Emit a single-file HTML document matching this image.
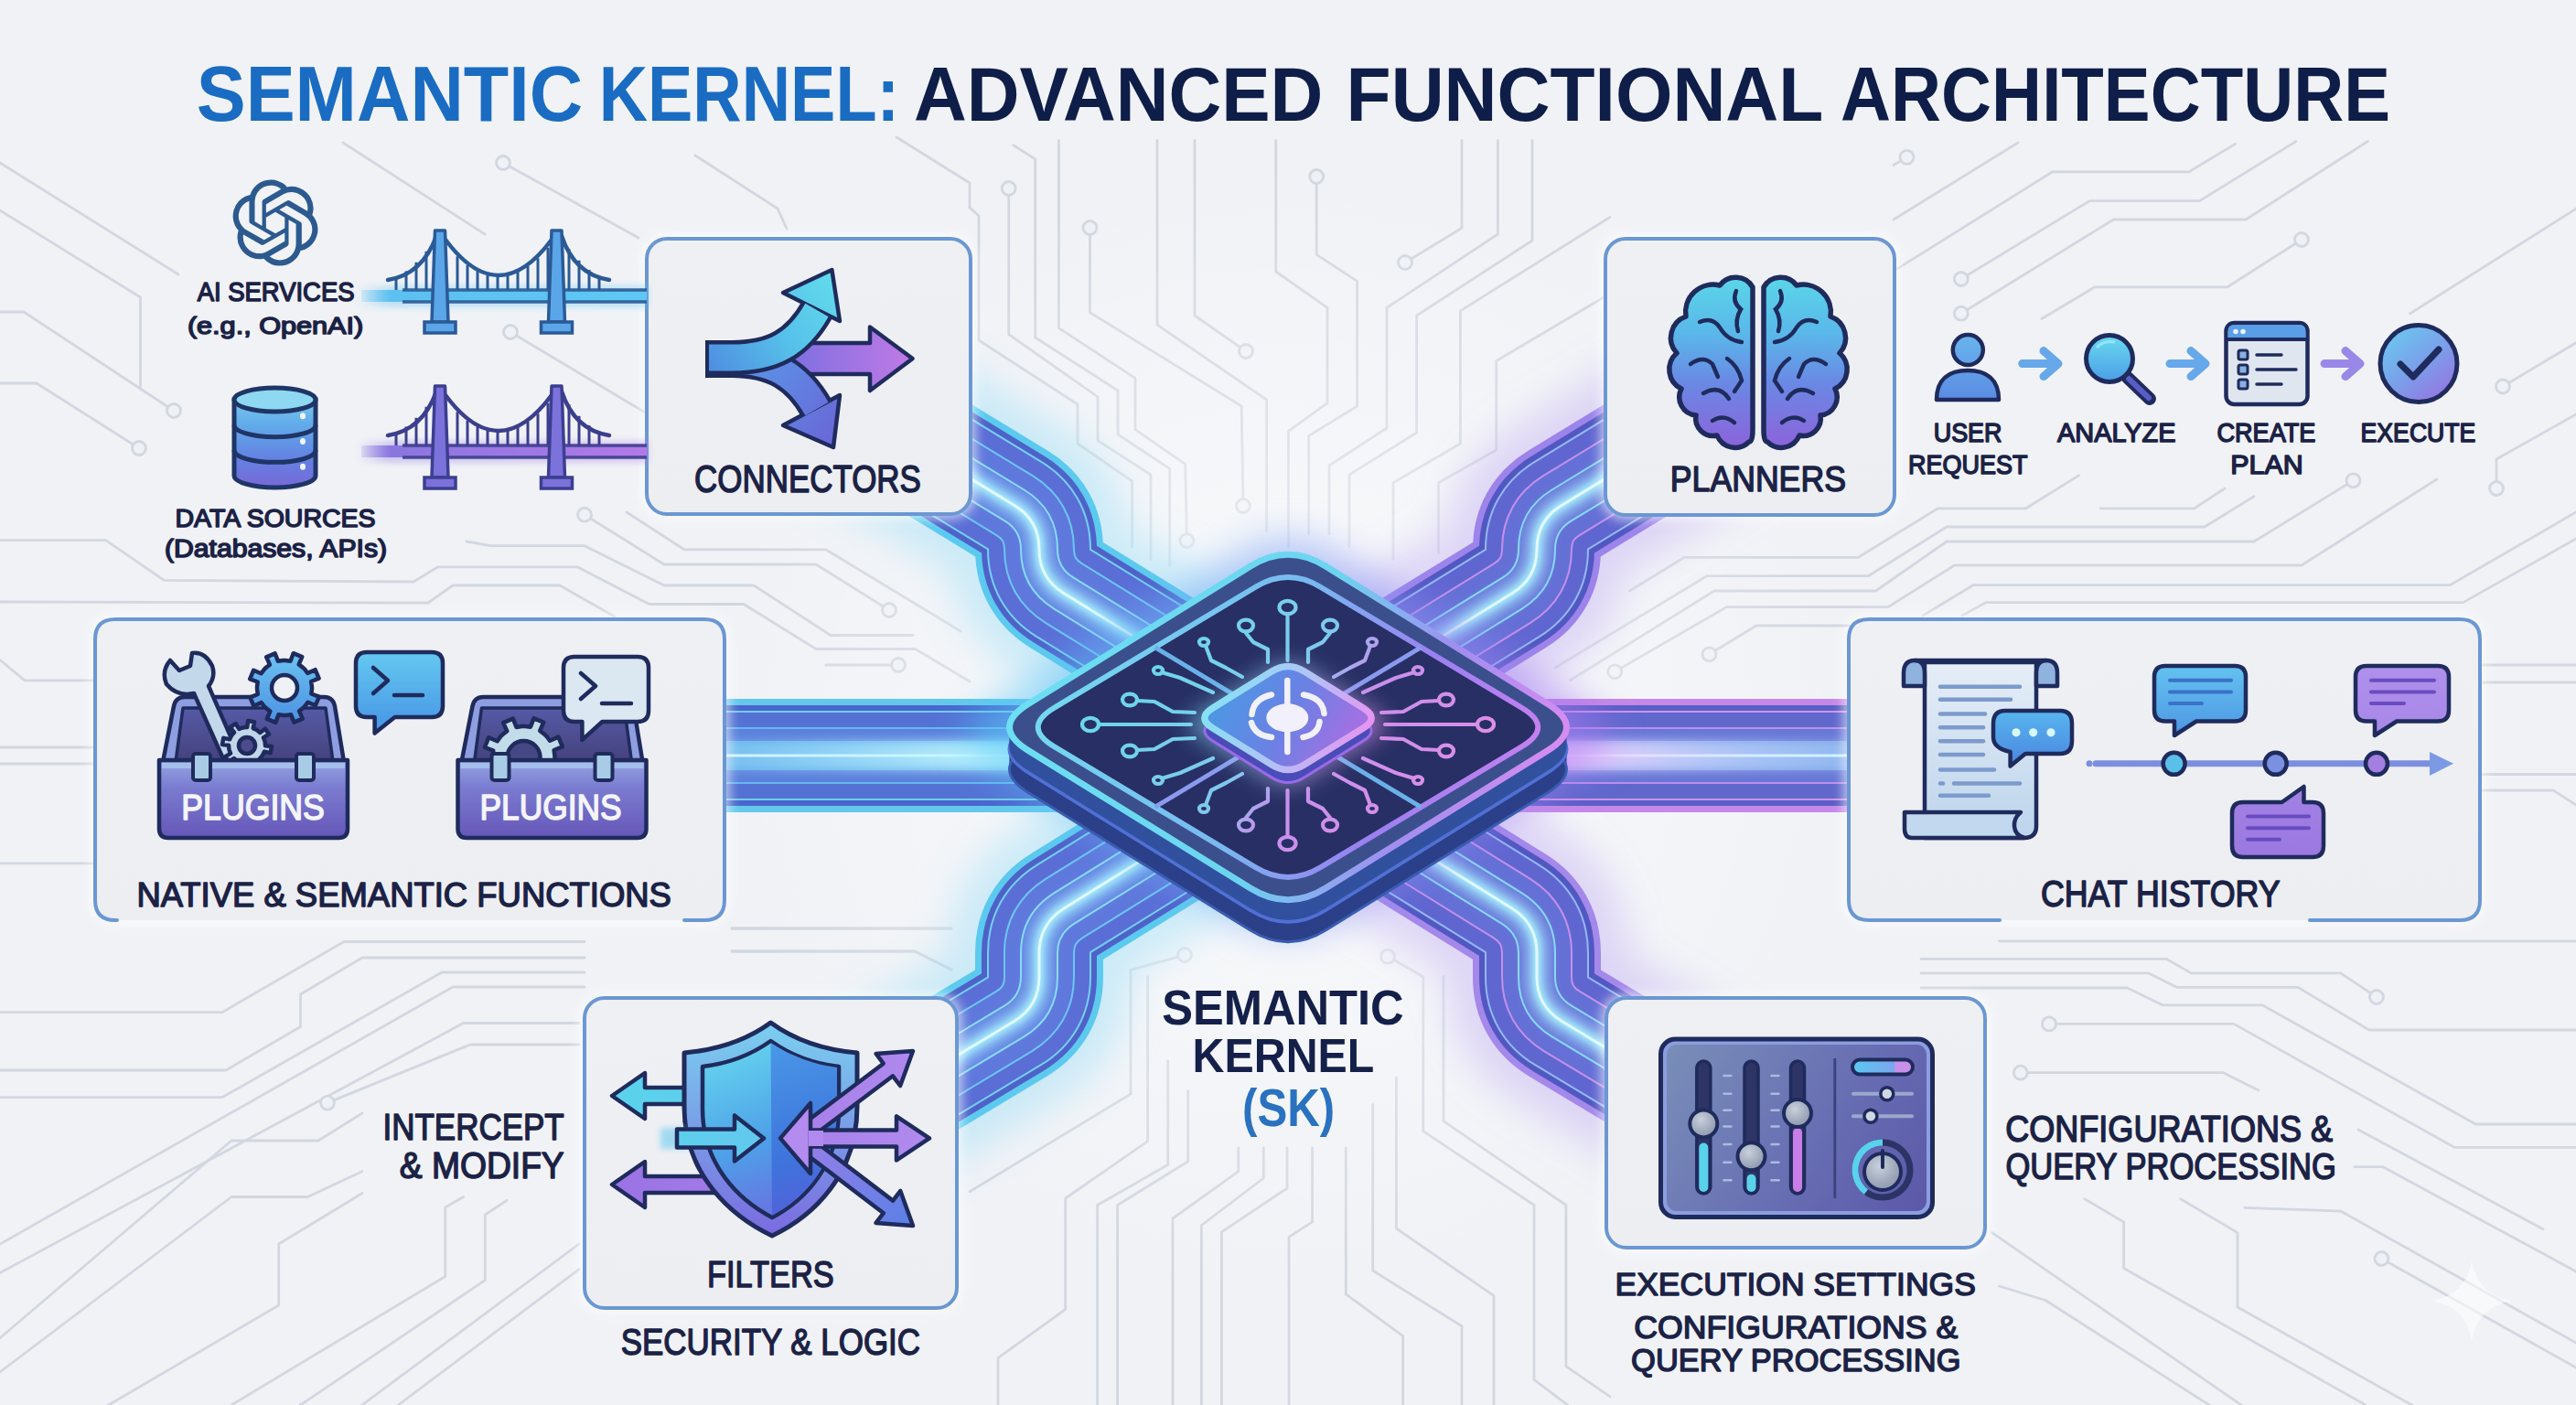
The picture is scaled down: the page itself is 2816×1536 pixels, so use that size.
<!DOCTYPE html><html><head><meta charset="utf-8"><style>html,body{margin:0;padding:0;width:2816px;height:1536px;overflow:hidden;background:#f1f3f7}svg{display:block}text{font-family:"Liberation Sans",sans-serif}</style></head><body><svg width="2816" height="1536" viewBox="0 0 2816 1536" xmlns="http://www.w3.org/2000/svg"><defs>
<filter id="blur6" x="-50%" y="-50%" width="200%" height="200%"><feGaussianBlur stdDeviation="6"/></filter>
<filter id="blur12" x="-50%" y="-50%" width="200%" height="200%"><feGaussianBlur stdDeviation="12"/></filter>
<filter id="blur20" x="-50%" y="-50%" width="200%" height="200%"><feGaussianBlur stdDeviation="20"/></filter>
<filter id="blur3" x="-50%" y="-50%" width="200%" height="200%"><feGaussianBlur stdDeviation="3"/></filter>
<radialGradient id="bgglow" cx="1408" cy="800" r="620" gradientUnits="userSpaceOnUse">
 <stop offset="0" stop-color="#ffffff" stop-opacity="0.75"/><stop offset="0.45" stop-color="#ffffff" stop-opacity="0.35"/><stop offset="1" stop-color="#ffffff" stop-opacity="0"/>
</radialGradient>
<linearGradient id="boxfill" x1="0" y1="0" x2="0" y2="1">
 <stop offset="0" stop-color="#eff0f4"/><stop offset="1" stop-color="#eceef2"/>
</linearGradient>
</defs>
<rect width="2816" height="1536" fill="#f0f2f6"/>
<g fill="none" stroke="#d2d7e0" stroke-width="2.8" stroke-linejoin="round" stroke-linecap="round">
<path d="M0.0,178.0 L195.0,300.0"/>
<path d="M0.0,230.0 L153.5,325.0 L153.5,425.0 L190.0,449.0"/>
<circle cx="190" cy="449" r="7.5" fill="#eef1f5"/>
<path d="M0.0,341.0 L26.0,341.0 L153.5,425.0"/>
<path d="M0.0,419.0 L40.0,419.0 L152.0,490.0"/>
<circle cx="152" cy="490" r="7.5" fill="#eef1f5"/>
<path d="M0.0,590.6 L115.6,590.6 L179.4,634.4 L452.0,636.0 L478.8,619.8 L631.0,619.8 L709.8,660.5 L813.0,660.5 L892.0,709.5 L1000.5,709.5 L1060.0,745.0"/>
<path d="M510.0,592.0 L536.0,596.7 L639.0,596.7 L726.0,640.0 L824.0,640.0 L908.0,694.5 L998.0,694.5"/>
<path d="M685.0,560.0 L748.0,600.8 L902.7,600.8 L1050.0,690.0"/>
<path d="M902.7,727.0 L982.0,727.0"/>
<circle cx="982" cy="727" r="7.5" fill="#eef1f5"/>
<path d="M0.0,658.0 L468.0,659.0 L495.0,640.0 L612.0,640.0 L671.7,674.0"/>
<path d="M375.0,156.0 L530.0,256.0"/>
<path d="M550.0,178.0 L698.0,260.0"/>
<circle cx="550" cy="178" r="7.5" fill="#eef1f5"/>
<path d="M558.0,363.0 L707.0,452.0"/>
<circle cx="558" cy="363" r="7.5" fill="#eef1f5"/>
<path d="M639.0,562.7 L726.0,617.0 L892.0,617.0 L972.0,667.0"/>
<circle cx="639" cy="562.7" r="7.5" fill="#eef1f5"/>
<circle cx="972" cy="667" r="7.5" fill="#eef1f5"/>
<path d="M1060.0,227.0 L1070.0,236.0 L1070.0,372.0 L1178.0,442.0 L1178.0,485.0 L1237.6,526.0 L1237.6,598.0"/>
<path d="M1102.7,206.0 L1102.7,365.5 L1200.0,433.8 L1200.0,481.6 L1258.0,519.0 L1258.0,611.5"/>
<circle cx="1102.7" cy="206" r="7.5" fill="#eef1f5"/>
<path d="M1107.8,158.8 L1131.7,174.0 L1131.7,369.0 L1222.0,427.0 L1222.0,474.8 L1278.7,512.4 L1278.7,618.0"/>
<path d="M1157.4,153.7 L1157.4,358.7 L1241.0,413.3 L1241.0,469.7 L1295.7,507.3 L1297.4,591.0"/>
<circle cx="1297.4" cy="591" r="7.5" fill="#eef1f5"/>
<path d="M1191.5,249.0 L1191.5,341.6 L1357.2,444.0 L1359.0,553.0"/>
<circle cx="1191.5" cy="249" r="7.5" fill="#eef1f5"/>
<circle cx="1359" cy="553" r="7.5" fill="#eef1f5"/>
<path d="M1265.0,153.7 L1265.0,355.0 L1384.6,437.0 L1384.6,580.7"/>
<path d="M1306.0,153.7 L1306.0,345.0 L1362.0,384.0"/>
<circle cx="1362" cy="384" r="7.5" fill="#eef1f5"/>
<path d="M1394.8,153.7 L1394.8,297.0 L1451.0,336.4 L1451.0,440.6 L1408.5,471.4 L1408.5,597.8"/>
<path d="M1439.2,193.0 L1439.2,278.4 L1483.6,307.4 L1483.6,444.0 L1430.7,476.5 L1430.7,584.0"/>
<circle cx="1439.2" cy="193" r="7.5" fill="#eef1f5"/>
<path d="M1598.0,153.7 L1598.0,249.3 L1536.0,287.0"/>
<circle cx="1536" cy="287" r="7.5" fill="#eef1f5"/>
<path d="M1637.4,153.7 L1637.4,256.0 L1516.0,336.4 L1516.0,468.0 L1453.0,509.0 L1453.0,584.0"/>
<path d="M1675.0,153.7 L1675.0,263.0 L1548.6,345.0 L1548.6,473.0 L1475.0,519.0 L1475.0,597.8"/>
<path d="M1760.0,237.4 L1596.4,339.9 L1596.4,485.0 L1523.0,527.8 L1523.0,611.5"/>
<path d="M1760.0,321.0 L1635.7,394.5 L1635.7,492.0 L1572.5,527.8 L1572.5,604.6"/>
<path d="M980.0,150.0 L1060.0,200.0 L1060.0,227.0"/>
<path d="M760.0,170.0 L850.0,228.0 L860.0,250.0"/>
<path d="M2084.5,171.9 L2070.0,180.5"/>
<circle cx="2084.5" cy="171.9" r="7.5" fill="#eef1f5"/>
<path d="M2070.0,240.0 L2206.0,156.0"/>
<path d="M2070.0,296.4 L2243.8,187.8 L2393.0,187.8 L2443.6,157.4"/>
<path d="M2143.8,305.0 L2284.3,219.6 L2404.5,219.6 L2510.0,154.5"/>
<circle cx="2143.8" cy="305" r="7.5" fill="#eef1f5"/>
<path d="M2143.8,342.7 L2310.4,240.0 L2455.0,240.0 L2588.4,154.5"/>
<circle cx="2143.8" cy="342.7" r="7.5" fill="#eef1f5"/>
<path d="M2232.0,348.5 L2290.0,313.8 L2435.0,313.8 L2516.0,262.0"/>
<circle cx="2516" cy="262" r="7.5" fill="#eef1f5"/>
<path d="M2634.7,342.7 L2816.0,228.3"/>
<path d="M2736.0,422.5 L2816.0,374.8"/>
<circle cx="2736" cy="422.5" r="7.5" fill="#eef1f5"/>
<path d="M2729.0,534.0 L2729.0,502.0 L2816.0,453.0"/>
<circle cx="2729" cy="534" r="7.5" fill="#eef1f5"/>
<path d="M2572.5,525.3 L2464.0,592.0 L2128.0,592.0 L2050.5,646.0 L1874.0,646.0 L1716.3,743.8"/>
<circle cx="2572.5" cy="525.3" r="7.5" fill="#eef1f5"/>
<path d="M1781.5,646.0 L1841.3,609.3 L2031.5,609.3 L2118.5,555.8 L2214.8,555.8 L2272.7,519.6"/>
<path d="M2296.0,555.8 L2398.7,555.8 L2432.0,534.0"/>
<path d="M1700.0,730.0 L1865.8,629.7 L2042.4,629.7 L2128.0,576.0 L2410.0,576.0 L2464.0,542.7"/>
<path d="M1765.2,734.3 L1887.5,663.6 L2064.0,663.6 L2136.6,618.0 L2516.0,618.0 L2663.7,524.0"/>
<circle cx="1765.2" cy="734.3" r="7.5" fill="#eef1f5"/>
<path d="M2020.7,684.0 L1920.0,684.0 L1868.5,715.3"/>
<circle cx="1868.5" cy="715.3" r="7.5" fill="#eef1f5"/>
<path d="M2102.0,673.0 L2157.0,639.7 L2678.0,639.7 L2816.0,560.0"/>
<path d="M2145.0,673.0 L2171.0,658.6 L2692.6,658.6 L2816.0,589.0"/>
<path d="M0.0,721.5 L27.0,743.8 L104.0,743.8"/>
<path d="M0.0,817.0 L104.0,817.0"/>
<path d="M0.0,835.0 L104.0,835.0"/>
<path d="M0.0,943.8 L104.0,943.8"/>
<path d="M0.0,1106.6 L243.0,1106.6 L376.0,1029.5 L639.0,1029.5"/>
<path d="M0.0,1170.0 L247.0,1170.0 L328.5,1122.5 L328.5,1087.0 L396.0,1047.0 L639.0,1047.0"/>
<path d="M0.0,1199.6 L243.0,1199.6 L483.0,1063.0 L639.0,1063.0"/>
<path d="M0.0,1360.0 L495.0,1079.0 L639.0,1079.0"/>
<path d="M0.0,1391.6 L506.5,1118.5 L633.0,1118.5"/>
<path d="M0.0,1462.8 L253.0,1247.0 L348.0,1247.0 L396.0,1217.0"/>
<path d="M358.0,1205.6 L514.0,1142.0 L633.0,1142.0"/>
<circle cx="358" cy="1205.6" r="7.5" fill="#eef1f5"/>
<path d="M118.7,1536.0 L304.7,1427.0 L304.7,1360.0 L396.0,1304.5"/>
<path d="M253.0,1536.0 L486.7,1395.5 L486.7,1320.0 L506.5,1308.5"/>
<path d="M328.5,1536.0 L530.3,1399.5 L530.3,1328.0 L554.0,1312.4"/>
<path d="M395.7,1536.0 L633.0,1360.0"/>
<path d="M435.3,1536.0 L633.0,1387.6"/>
<path d="M0.0,1500.0 L253.0,1308.5 L336.4,1308.5 L395.7,1280.8"/>
<path d="M800.0,1015.0 L1040.0,1015.0"/>
<path d="M800.0,1040.0 L1000.0,1040.0 L1040.0,1060.0"/>
<path d="M1295.0,1044.0 L1236.0,1060.4 L1236.0,1196.0 L1060.0,1302.8"/>
<circle cx="1295" cy="1044" r="7.5" fill="#eef1f5"/>
<path d="M1254.6,1067.7 L1254.6,1247.7 L1164.7,1310.0 L1164.7,1431.3 L1091.0,1484.6 L1091.0,1536.0"/>
<path d="M1276.7,1159.6 L1276.7,1273.4 L1199.6,1317.5 L1199.6,1536.0"/>
<path d="M1298.7,1192.6 L1298.7,1269.7 L1221.6,1317.5 L1221.6,1536.0"/>
<path d="M1353.8,1255.0 L1353.8,1280.7 L1282.0,1332.0 L1282.0,1536.0"/>
<path d="M1381.3,1255.0 L1381.3,1288.0 L1313.4,1339.5 L1313.4,1536.0"/>
<path d="M1407.0,1255.0 L1407.0,1299.0 L1335.4,1346.8 L1335.4,1536.0"/>
<path d="M1434.6,1255.0 L1434.6,1335.8 L1409.0,1352.4 L1409.0,1536.0"/>
<path d="M1471.3,1255.0 L1471.3,1414.8 L1533.7,1460.7 L1533.7,1536.0"/>
<path d="M1500.7,1207.3 L1500.7,1389.0 L1598.0,1449.7 L1598.0,1536.0"/>
<path d="M1526.4,1178.0 L1526.4,1343.0 L1633.0,1416.6 L1633.0,1536.0"/>
<path d="M1517.0,1045.7 L1555.8,1067.7 L1555.8,1236.7 L1677.0,1317.5 L1677.0,1508.4 L1713.7,1536.0"/>
<circle cx="1517" cy="1045.7" r="7.5" fill="#eef1f5"/>
<path d="M1578.0,1067.7 L1578.0,1225.7 L1711.9,1317.5 L1711.9,1493.7 L1760.0,1526.8"/>
<path d="M800.0,1015.0 L1040.0,1015.0"/>
<path d="M800.0,1040.0 L1000.0,1040.0 L1040.0,1060.0"/>
<path d="M2185.5,1028.9 L2816.0,1028.9"/>
<path d="M2100.0,1048.3 L2368.0,1048.3 L2395.4,1063.9 L2558.7,1063.9 L2598.0,1090.0"/>
<circle cx="2598" cy="1090" r="7.5" fill="#eef1f5"/>
<path d="M2100.0,1063.9 L2348.8,1063.9 L2380.0,1079.4 L2512.0,1079.4 L2589.8,1126.0 L2816.0,1126.0"/>
<path d="M2100.0,1080.0 L2325.5,1080.0 L2364.0,1098.8 L2473.0,1098.8 L2706.4,1229.0 L2816.0,1229.0"/>
<path d="M2240.0,1119.4 L2442.0,1119.4 L2683.0,1254.3 L2816.0,1254.3"/>
<circle cx="2240" cy="1119.4" r="7.5" fill="#eef1f5"/>
<path d="M2208.8,1172.7 L2430.4,1172.7 L2469.0,1192.0"/>
<circle cx="2208.8" cy="1172.7" r="7.5" fill="#eef1f5"/>
<path d="M2578.0,1235.0 L2780.0,1343.7"/>
<path d="M2574.0,1275.7 L2605.0,1275.7 L2816.0,1390.0"/>
<path d="M2453.7,1320.4 L2558.7,1324.0 L2816.0,1468.0"/>
<path d="M2603.4,1376.0 L2816.0,1495.0"/>
<circle cx="2603.4" cy="1376" r="7.5" fill="#eef1f5"/>
<path d="M2278.8,1310.7 L2321.6,1336.0 L2321.6,1386.5 L2527.6,1503.0 L2586.0,1536.0"/>
<path d="M2383.8,1310.7 L2446.0,1347.6 L2446.0,1429.0 L2636.4,1536.0"/>
<path d="M2177.7,1347.6 L2450.0,1536.0"/>
<path d="M2185.5,1406.0 L2236.0,1421.5 L2415.0,1536.0"/>
<path d="M2711.0,727.0 L2816.0,727.0"/>
<path d="M2711.0,746.0 L2816.0,746.0"/>
<path d="M2711.0,846.5 L2816.0,846.5"/>
<path d="M2711.0,864.0 L2791.0,864.0 L2816.0,880.0"/>
</g>
<path d="M2702,1378 Q2708,1416 2746,1422 Q2708,1428 2702,1466 Q2696,1428 2658,1422 Q2696,1416 2702,1378 Z" fill="#ffffff" opacity="0.55"/>
<rect width="2816" height="1536" fill="url(#bgglow)"/>
<path d="M780.0,826.0 L1300.0,826.0" fill="none" stroke="#7fd8f6" stroke-width="184" stroke-opacity="0.35" filter="url(#blur20)"/>
<path d="M780.0,826.0 L1300.0,826.0" fill="none" stroke="#63c8ec" stroke-width="124"/>
<path d="M780.0,826.0 L1300.0,826.0" fill="none" stroke="#4a66cc" stroke-width="110"/>
<path d="M780.0,826.0 L1300.0,826.0" fill="none" stroke="#72cbf2" stroke-width="98" stroke-opacity="1"/>
<path d="M780.0,826.0 L1300.0,826.0" fill="none" stroke="#5472d4" stroke-width="94" stroke-opacity="1"/>
<path d="M780.0,826.0 L1300.0,826.0" fill="none" stroke="#66b6ee" stroke-width="62" stroke-opacity="1"/>
<path d="M780.0,826.0 L1300.0,826.0" fill="none" stroke="#5a80dc" stroke-width="58" stroke-opacity="1"/>
<path d="M780.0,826.0 L1300.0,826.0" fill="none" stroke="#62aeec" stroke-width="32" stroke-opacity="1"/>
<path d="M780.0,826.0 L1300.0,826.0" fill="none" stroke="#9ff0ff" stroke-width="24" stroke-opacity="0.55" filter="url(#blur6)"/>
<path d="M780.0,826.0 L1300.0,826.0" fill="none" stroke="#9ff0ff" stroke-width="9" stroke-opacity="0.85" filter="url(#blur3)"/>
<path d="M780.0,826.0 L1300.0,826.0" fill="none" stroke="#e8fbff" stroke-width="3" stroke-opacity="0.9"/>
<path d="M1520.0,826.0 L2030.0,826.0" fill="none" stroke="#c49af0" stroke-width="184" stroke-opacity="0.35" filter="url(#blur20)"/>
<path d="M1520.0,826.0 L2030.0,826.0" fill="none" stroke="#c588e8" stroke-width="124"/>
<path d="M1520.0,826.0 L2030.0,826.0" fill="none" stroke="#5a5fc6" stroke-width="110"/>
<path d="M1520.0,826.0 L2030.0,826.0" fill="none" stroke="#d092ee" stroke-width="98" stroke-opacity="1"/>
<path d="M1520.0,826.0 L2030.0,826.0" fill="none" stroke="#6068cc" stroke-width="94" stroke-opacity="1"/>
<path d="M1520.0,826.0 L2030.0,826.0" fill="none" stroke="#bc8eea" stroke-width="62" stroke-opacity="1"/>
<path d="M1520.0,826.0 L2030.0,826.0" fill="none" stroke="#6676d6" stroke-width="58" stroke-opacity="1"/>
<path d="M1520.0,826.0 L2030.0,826.0" fill="none" stroke="#82a0ea" stroke-width="32" stroke-opacity="1"/>
<path d="M1520.0,826.0 L2030.0,826.0" fill="none" stroke="#9fe8ff" stroke-width="24" stroke-opacity="0.55" filter="url(#blur6)"/>
<path d="M1520.0,826.0 L2030.0,826.0" fill="none" stroke="#9fe8ff" stroke-width="9" stroke-opacity="0.85" filter="url(#blur3)"/>
<path d="M1520.0,826.0 L2030.0,826.0" fill="none" stroke="#e8fbff" stroke-width="3" stroke-opacity="0.9"/>
<defs><linearGradient id="hlg" x1="790" y1="0" x2="1110" y2="0" gradientUnits="userSpaceOnUse"><stop offset="0" stop-color="#b8f2ff" stop-opacity="0.25"/><stop offset="1" stop-color="#c8f8ff" stop-opacity="0.95"/></linearGradient>
<linearGradient id="hrg" x1="1700" y1="0" x2="2020" y2="0" gradientUnits="userSpaceOnUse"><stop offset="0" stop-color="#f8d0ff" stop-opacity="0.95"/><stop offset="1" stop-color="#b8f0ff" stop-opacity="0.3"/></linearGradient></defs>
<rect x="790" y="810" width="330" height="32" fill="url(#hlg)" filter="url(#blur6)"/>
<rect x="1700" y="810" width="322" height="32" fill="url(#hrg)" filter="url(#blur6)"/>
<path d="M880.0,413.0 L1109.1,552.6 Q1136.0,569.0 1136.0,600.5 L1136.0,600.5 Q1136.0,632.0 1162.8,648.5 L1400.0,795.0" fill="none" stroke="#7fd8f6" stroke-width="200" stroke-opacity="0.35" filter="url(#blur20)"/>
<path d="M880.0,413.0 L1109.1,552.6 Q1136.0,569.0 1136.0,600.5 L1136.0,600.5 Q1136.0,632.0 1162.8,648.5 L1400.0,795.0" fill="none" stroke="#5ccaee" stroke-width="140"/>
<path d="M880.0,413.0 L1109.1,552.6 Q1136.0,569.0 1136.0,600.5 L1136.0,600.5 Q1136.0,632.0 1162.8,648.5 L1400.0,795.0" fill="none" stroke="#4f62c8" stroke-width="126"/>
<path d="M880.0,413.0 L1109.1,552.6 Q1136.0,569.0 1136.0,600.5 L1136.0,600.5 Q1136.0,632.0 1162.8,648.5 L1400.0,795.0" fill="none" stroke="#74d0f4" stroke-width="114" stroke-opacity="1"/>
<path d="M880.0,413.0 L1109.1,552.6 Q1136.0,569.0 1136.0,600.5 L1136.0,600.5 Q1136.0,632.0 1162.8,648.5 L1400.0,795.0" fill="none" stroke="#5a6ed6" stroke-width="110" stroke-opacity="1"/>
<path d="M880.0,413.0 L1109.1,552.6 Q1136.0,569.0 1136.0,600.5 L1136.0,600.5 Q1136.0,632.0 1162.8,648.5 L1400.0,795.0" fill="none" stroke="#6cc6f2" stroke-width="78" stroke-opacity="1"/>
<path d="M880.0,413.0 L1109.1,552.6 Q1136.0,569.0 1136.0,600.5 L1136.0,600.5 Q1136.0,632.0 1162.8,648.5 L1400.0,795.0" fill="none" stroke="#5f78dc" stroke-width="74" stroke-opacity="1"/>
<path d="M880.0,413.0 L1109.1,552.6 Q1136.0,569.0 1136.0,600.5 L1136.0,600.5 Q1136.0,632.0 1162.8,648.5 L1400.0,795.0" fill="none" stroke="#86daf8" stroke-width="42" stroke-opacity="1"/>
<path d="M880.0,413.0 L1109.1,552.6 Q1136.0,569.0 1136.0,600.5 L1136.0,600.5 Q1136.0,632.0 1162.8,648.5 L1400.0,795.0" fill="none" stroke="#6484e2" stroke-width="38" stroke-opacity="1"/>
<path d="M880.0,413.0 L1109.1,552.6 Q1136.0,569.0 1136.0,600.5 L1136.0,600.5 Q1136.0,632.0 1162.8,648.5 L1400.0,795.0" fill="none" stroke="#a8f2ff" stroke-width="24" stroke-opacity="0.55" filter="url(#blur6)"/>
<path d="M880.0,413.0 L1109.1,552.6 Q1136.0,569.0 1136.0,600.5 L1136.0,600.5 Q1136.0,632.0 1162.8,648.5 L1400.0,795.0" fill="none" stroke="#a8f2ff" stroke-width="9" stroke-opacity="0.85" filter="url(#blur3)"/>
<path d="M880.0,413.0 L1109.1,552.6 Q1136.0,569.0 1136.0,600.5 L1136.0,600.5 Q1136.0,632.0 1162.8,648.5 L1400.0,795.0" fill="none" stroke="#e8fbff" stroke-width="3" stroke-opacity="0.9"/>
<path d="M1936.0,413.0 L1706.9,552.6 Q1680.0,569.0 1680.0,600.5 L1680.0,600.5 Q1680.0,632.0 1653.2,648.5 L1416.0,795.0" fill="none" stroke="#b49af0" stroke-width="200" stroke-opacity="0.35" filter="url(#blur20)"/>
<path d="M1936.0,413.0 L1706.9,552.6 Q1680.0,569.0 1680.0,600.5 L1680.0,600.5 Q1680.0,632.0 1653.2,648.5 L1416.0,795.0" fill="none" stroke="#9c84ea" stroke-width="140"/>
<path d="M1936.0,413.0 L1706.9,552.6 Q1680.0,569.0 1680.0,600.5 L1680.0,600.5 Q1680.0,632.0 1653.2,648.5 L1416.0,795.0" fill="none" stroke="#5258c2" stroke-width="126"/>
<path d="M1936.0,413.0 L1706.9,552.6 Q1680.0,569.0 1680.0,600.5 L1680.0,600.5 Q1680.0,632.0 1653.2,648.5 L1416.0,795.0" fill="none" stroke="#94b8f2" stroke-width="114" stroke-opacity="1"/>
<path d="M1936.0,413.0 L1706.9,552.6 Q1680.0,569.0 1680.0,600.5 L1680.0,600.5 Q1680.0,632.0 1653.2,648.5 L1416.0,795.0" fill="none" stroke="#6066d0" stroke-width="110" stroke-opacity="1"/>
<path d="M1936.0,413.0 L1706.9,552.6 Q1680.0,569.0 1680.0,600.5 L1680.0,600.5 Q1680.0,632.0 1653.2,648.5 L1416.0,795.0" fill="none" stroke="#c490ea" stroke-width="78" stroke-opacity="1"/>
<path d="M1936.0,413.0 L1706.9,552.6 Q1680.0,569.0 1680.0,600.5 L1680.0,600.5 Q1680.0,632.0 1653.2,648.5 L1416.0,795.0" fill="none" stroke="#6470d6" stroke-width="74" stroke-opacity="1"/>
<path d="M1936.0,413.0 L1706.9,552.6 Q1680.0,569.0 1680.0,600.5 L1680.0,600.5 Q1680.0,632.0 1653.2,648.5 L1416.0,795.0" fill="none" stroke="#86d6f8" stroke-width="42" stroke-opacity="1"/>
<path d="M1936.0,413.0 L1706.9,552.6 Q1680.0,569.0 1680.0,600.5 L1680.0,600.5 Q1680.0,632.0 1653.2,648.5 L1416.0,795.0" fill="none" stroke="#6a7ada" stroke-width="38" stroke-opacity="1"/>
<path d="M1936.0,413.0 L1706.9,552.6 Q1680.0,569.0 1680.0,600.5 L1680.0,600.5 Q1680.0,632.0 1653.2,648.5 L1416.0,795.0" fill="none" stroke="#a8f2ff" stroke-width="24" stroke-opacity="0.55" filter="url(#blur6)"/>
<path d="M1936.0,413.0 L1706.9,552.6 Q1680.0,569.0 1680.0,600.5 L1680.0,600.5 Q1680.0,632.0 1653.2,648.5 L1416.0,795.0" fill="none" stroke="#a8f2ff" stroke-width="9" stroke-opacity="0.85" filter="url(#blur3)"/>
<path d="M1936.0,413.0 L1706.9,552.6 Q1680.0,569.0 1680.0,600.5 L1680.0,600.5 Q1680.0,632.0 1653.2,648.5 L1416.0,795.0" fill="none" stroke="#e8fbff" stroke-width="3" stroke-opacity="0.9"/>
<path d="M1400.0,846.0 L1163.2,993.1 Q1136.0,1010.0 1136.0,1042.0 L1136.0,1068.0 Q1136.0,1100.0 1108.6,1116.5 L880.0,1254.0" fill="none" stroke="#7fd8f6" stroke-width="200" stroke-opacity="0.35" filter="url(#blur20)"/>
<path d="M1400.0,846.0 L1163.2,993.1 Q1136.0,1010.0 1136.0,1042.0 L1136.0,1068.0 Q1136.0,1100.0 1108.6,1116.5 L880.0,1254.0" fill="none" stroke="#5ccaee" stroke-width="140"/>
<path d="M1400.0,846.0 L1163.2,993.1 Q1136.0,1010.0 1136.0,1042.0 L1136.0,1068.0 Q1136.0,1100.0 1108.6,1116.5 L880.0,1254.0" fill="none" stroke="#4f62c8" stroke-width="126"/>
<path d="M1400.0,846.0 L1163.2,993.1 Q1136.0,1010.0 1136.0,1042.0 L1136.0,1068.0 Q1136.0,1100.0 1108.6,1116.5 L880.0,1254.0" fill="none" stroke="#74d0f4" stroke-width="114" stroke-opacity="1"/>
<path d="M1400.0,846.0 L1163.2,993.1 Q1136.0,1010.0 1136.0,1042.0 L1136.0,1068.0 Q1136.0,1100.0 1108.6,1116.5 L880.0,1254.0" fill="none" stroke="#5a6ed6" stroke-width="110" stroke-opacity="1"/>
<path d="M1400.0,846.0 L1163.2,993.1 Q1136.0,1010.0 1136.0,1042.0 L1136.0,1068.0 Q1136.0,1100.0 1108.6,1116.5 L880.0,1254.0" fill="none" stroke="#6cc6f2" stroke-width="78" stroke-opacity="1"/>
<path d="M1400.0,846.0 L1163.2,993.1 Q1136.0,1010.0 1136.0,1042.0 L1136.0,1068.0 Q1136.0,1100.0 1108.6,1116.5 L880.0,1254.0" fill="none" stroke="#5f78dc" stroke-width="74" stroke-opacity="1"/>
<path d="M1400.0,846.0 L1163.2,993.1 Q1136.0,1010.0 1136.0,1042.0 L1136.0,1068.0 Q1136.0,1100.0 1108.6,1116.5 L880.0,1254.0" fill="none" stroke="#86daf8" stroke-width="42" stroke-opacity="1"/>
<path d="M1400.0,846.0 L1163.2,993.1 Q1136.0,1010.0 1136.0,1042.0 L1136.0,1068.0 Q1136.0,1100.0 1108.6,1116.5 L880.0,1254.0" fill="none" stroke="#6484e2" stroke-width="38" stroke-opacity="1"/>
<path d="M1400.0,846.0 L1163.2,993.1 Q1136.0,1010.0 1136.0,1042.0 L1136.0,1068.0 Q1136.0,1100.0 1108.6,1116.5 L880.0,1254.0" fill="none" stroke="#a8f2ff" stroke-width="24" stroke-opacity="0.55" filter="url(#blur6)"/>
<path d="M1400.0,846.0 L1163.2,993.1 Q1136.0,1010.0 1136.0,1042.0 L1136.0,1068.0 Q1136.0,1100.0 1108.6,1116.5 L880.0,1254.0" fill="none" stroke="#a8f2ff" stroke-width="9" stroke-opacity="0.85" filter="url(#blur3)"/>
<path d="M1400.0,846.0 L1163.2,993.1 Q1136.0,1010.0 1136.0,1042.0 L1136.0,1068.0 Q1136.0,1100.0 1108.6,1116.5 L880.0,1254.0" fill="none" stroke="#e8fbff" stroke-width="3" stroke-opacity="0.9"/>
<path d="M1416.0,846.0 L1652.8,993.1 Q1680.0,1010.0 1680.0,1042.0 L1680.0,1068.0 Q1680.0,1100.0 1707.4,1116.5 L1936.0,1254.0" fill="none" stroke="#b49af0" stroke-width="200" stroke-opacity="0.35" filter="url(#blur20)"/>
<path d="M1416.0,846.0 L1652.8,993.1 Q1680.0,1010.0 1680.0,1042.0 L1680.0,1068.0 Q1680.0,1100.0 1707.4,1116.5 L1936.0,1254.0" fill="none" stroke="#a488ea" stroke-width="140"/>
<path d="M1416.0,846.0 L1652.8,993.1 Q1680.0,1010.0 1680.0,1042.0 L1680.0,1068.0 Q1680.0,1100.0 1707.4,1116.5 L1936.0,1254.0" fill="none" stroke="#5258c2" stroke-width="126"/>
<path d="M1416.0,846.0 L1652.8,993.1 Q1680.0,1010.0 1680.0,1042.0 L1680.0,1068.0 Q1680.0,1100.0 1707.4,1116.5 L1936.0,1254.0" fill="none" stroke="#94b8f2" stroke-width="114" stroke-opacity="1"/>
<path d="M1416.0,846.0 L1652.8,993.1 Q1680.0,1010.0 1680.0,1042.0 L1680.0,1068.0 Q1680.0,1100.0 1707.4,1116.5 L1936.0,1254.0" fill="none" stroke="#6066d0" stroke-width="110" stroke-opacity="1"/>
<path d="M1416.0,846.0 L1652.8,993.1 Q1680.0,1010.0 1680.0,1042.0 L1680.0,1068.0 Q1680.0,1100.0 1707.4,1116.5 L1936.0,1254.0" fill="none" stroke="#c490ea" stroke-width="78" stroke-opacity="1"/>
<path d="M1416.0,846.0 L1652.8,993.1 Q1680.0,1010.0 1680.0,1042.0 L1680.0,1068.0 Q1680.0,1100.0 1707.4,1116.5 L1936.0,1254.0" fill="none" stroke="#6470d6" stroke-width="74" stroke-opacity="1"/>
<path d="M1416.0,846.0 L1652.8,993.1 Q1680.0,1010.0 1680.0,1042.0 L1680.0,1068.0 Q1680.0,1100.0 1707.4,1116.5 L1936.0,1254.0" fill="none" stroke="#86d6f8" stroke-width="42" stroke-opacity="1"/>
<path d="M1416.0,846.0 L1652.8,993.1 Q1680.0,1010.0 1680.0,1042.0 L1680.0,1068.0 Q1680.0,1100.0 1707.4,1116.5 L1936.0,1254.0" fill="none" stroke="#6a7ada" stroke-width="38" stroke-opacity="1"/>
<path d="M1416.0,846.0 L1652.8,993.1 Q1680.0,1010.0 1680.0,1042.0 L1680.0,1068.0 Q1680.0,1100.0 1707.4,1116.5 L1936.0,1254.0" fill="none" stroke="#a8f2ff" stroke-width="24" stroke-opacity="0.55" filter="url(#blur6)"/>
<path d="M1416.0,846.0 L1652.8,993.1 Q1680.0,1010.0 1680.0,1042.0 L1680.0,1068.0 Q1680.0,1100.0 1707.4,1116.5 L1936.0,1254.0" fill="none" stroke="#a8f2ff" stroke-width="9" stroke-opacity="0.85" filter="url(#blur3)"/>
<path d="M1416.0,846.0 L1652.8,993.1 Q1680.0,1010.0 1680.0,1042.0 L1680.0,1068.0 Q1680.0,1100.0 1707.4,1116.5 L1936.0,1254.0" fill="none" stroke="#e8fbff" stroke-width="3" stroke-opacity="0.9"/>
<defs>
<linearGradient id="rimg" x1="1100" y1="700" x2="1720" y2="900" gradientUnits="userSpaceOnUse">
 <stop offset="0" stop-color="#6de0f2"/><stop offset="0.5" stop-color="#6cd4f0"/><stop offset="0.72" stop-color="#a08ef0"/><stop offset="1" stop-color="#e48cf0"/>
</linearGradient>
<linearGradient id="rimg2" x1="1130" y1="700" x2="1690" y2="900" gradientUnits="userSpaceOnUse">
 <stop offset="0" stop-color="#74dcf0"/><stop offset="0.45" stop-color="#78b8f0"/><stop offset="0.7" stop-color="#9a80f0"/><stop offset="1" stop-color="#d080f0"/>
</linearGradient>
<linearGradient id="glowg" x1="1050" y1="0" x2="1770" y2="0" gradientUnits="userSpaceOnUse">
 <stop offset="0" stop-color="#50d0f8"/><stop offset="1" stop-color="#b070f0"/>
</linearGradient>
<linearGradient id="trg" x1="1250" y1="680" x2="1570" y2="910" gradientUnits="userSpaceOnUse">
 <stop offset="0" stop-color="#6ad8e6"/><stop offset="0.45" stop-color="#80c8ee"/><stop offset="0.6" stop-color="#c490ec"/><stop offset="1" stop-color="#e08ee8"/>
</linearGradient>
<linearGradient id="ctrg" x1="1340" y1="745" x2="1480" y2="825" gradientUnits="userSpaceOnUse">
 <stop offset="0" stop-color="#4c98e4"/><stop offset="0.5" stop-color="#6c80e4"/><stop offset="1" stop-color="#ac6ee2"/>
</linearGradient>
<linearGradient id="ctrs" x1="1315" y1="745" x2="1500" y2="830" gradientUnits="userSpaceOnUse">
 <stop offset="0" stop-color="#7ee6f2"/><stop offset="0.5" stop-color="#b0c4f6"/><stop offset="1" stop-color="#f08cf0"/>
</linearGradient>
</defs>
<path d="M1349.4,605.8 Q1408.0,569.4 1466.6,605.8 L1729.4,768.6 Q1788.0,805.0 1729.4,841.4 L1466.6,1004.2 Q1408.0,1040.6 1349.4,1004.2 L1086.6,841.4 Q1028.0,805.0 1086.6,768.6 Z" fill="url(#glowg)" opacity="0.55" filter="url(#blur20)"/>
<path d="M1366.9,665.0 Q1408.0,639.5 1449.1,665.0 L1691.9,815.5 Q1733.0,841.0 1691.9,866.5 L1449.1,1017.0 Q1408.0,1042.5 1366.9,1017.0 L1124.1,866.5 Q1083.0,841.0 1124.1,815.5 Z" fill="#2b4088"/>
<path d="M1366.9,662.0 Q1408.0,636.5 1449.1,662.0 L1691.9,812.5 Q1733.0,838.0 1691.9,863.5 L1449.1,1014.0 Q1408.0,1039.5 1366.9,1014.0 L1124.1,863.5 Q1083.0,838.0 1124.1,812.5 Z" fill="#2b4088"/>
<path d="M1366.9,659.0 Q1408.0,633.5 1449.1,659.0 L1691.9,809.5 Q1733.0,835.0 1691.9,860.5 L1449.1,1011.0 Q1408.0,1036.5 1366.9,1011.0 L1124.1,860.5 Q1083.0,835.0 1124.1,809.5 Z" fill="#2b4088"/>
<path d="M1366.9,656.0 Q1408.0,630.5 1449.1,656.0 L1691.9,806.5 Q1733.0,832.0 1691.9,857.5 L1449.1,1008.0 Q1408.0,1033.5 1366.9,1008.0 L1124.1,857.5 Q1083.0,832.0 1124.1,806.5 Z" fill="#2b4088"/>
<path d="M1366.9,653.0 Q1408.0,627.5 1449.1,653.0 L1691.9,803.5 Q1733.0,829.0 1691.9,854.5 L1449.1,1005.0 Q1408.0,1030.5 1366.9,1005.0 L1124.1,854.5 Q1083.0,829.0 1124.1,803.5 Z" fill="#2b4088"/>
<path d="M1366.9,650.0 Q1408.0,624.5 1449.1,650.0 L1691.9,800.5 Q1733.0,826.0 1691.9,851.5 L1449.1,1002.0 Q1408.0,1027.5 1366.9,1002.0 L1124.1,851.5 Q1083.0,826.0 1124.1,800.5 Z" fill="#2b4088"/>
<path d="M1366.9,647.0 Q1408.0,621.5 1449.1,647.0 L1691.9,797.5 Q1733.0,823.0 1691.9,848.5 L1449.1,999.0 Q1408.0,1024.5 1366.9,999.0 L1124.1,848.5 Q1083.0,823.0 1124.1,797.5 Z" fill="#2b4088"/>
<path d="M1366.9,644.0 Q1408.0,618.5 1449.1,644.0 L1691.9,794.5 Q1733.0,820.0 1691.9,845.5 L1449.1,996.0 Q1408.0,1021.5 1366.9,996.0 L1124.1,845.5 Q1083.0,820.0 1124.1,794.5 Z" fill="#2b4088"/>
<path d="M1366.9,665.0 Q1408.0,639.5 1449.1,665.0 L1691.9,815.5 Q1733.0,841.0 1691.9,866.5 L1449.1,1017.0 Q1408.0,1042.5 1366.9,1017.0 L1124.1,866.5 Q1083.0,841.0 1124.1,815.5 Z" fill="none" stroke="#3a5cb0" stroke-width="3"/>
<path d="M1366.9,643.0 Q1408.0,617.5 1449.1,643.0 L1691.9,793.5 Q1733.0,819.0 1691.9,844.5 L1449.1,995.0 Q1408.0,1020.5 1366.9,995.0 L1124.1,844.5 Q1083.0,819.0 1124.1,793.5 Z" fill="#3358a8" stroke="#5070d4" stroke-width="4"/>
<path d="M1366.9,641.0 Q1408.0,615.5 1449.1,641.0 L1691.9,791.5 Q1733.0,817.0 1691.9,842.5 L1449.1,993.0 Q1408.0,1018.5 1366.9,993.0 L1124.1,842.5 Q1083.0,817.0 1124.1,791.5 Z" fill="#31509e"/>
<path d="M1366.9,638.0 Q1408.0,612.5 1449.1,638.0 L1691.9,788.5 Q1733.0,814.0 1691.9,839.5 L1449.1,990.0 Q1408.0,1015.5 1366.9,990.0 L1124.1,839.5 Q1083.0,814.0 1124.1,788.5 Z" fill="#31509e"/>
<path d="M1366.9,635.0 Q1408.0,609.5 1449.1,635.0 L1691.9,785.5 Q1733.0,811.0 1691.9,836.5 L1449.1,987.0 Q1408.0,1012.5 1366.9,987.0 L1124.1,836.5 Q1083.0,811.0 1124.1,785.5 Z" fill="#31509e"/>
<path d="M1366.9,632.0 Q1408.0,606.5 1449.1,632.0 L1691.9,782.5 Q1733.0,808.0 1691.9,833.5 L1449.1,984.0 Q1408.0,1009.5 1366.9,984.0 L1124.1,833.5 Q1083.0,808.0 1124.1,782.5 Z" fill="#31509e"/>
<path d="M1366.9,629.0 Q1408.0,603.5 1449.1,629.0 L1691.9,779.5 Q1733.0,805.0 1691.9,830.5 L1449.1,981.0 Q1408.0,1006.5 1366.9,981.0 L1124.1,830.5 Q1083.0,805.0 1124.1,779.5 Z" fill="#31509e"/>
<path d="M1366.9,626.0 Q1408.0,600.5 1449.1,626.0 L1691.9,776.5 Q1733.0,802.0 1691.9,827.5 L1449.1,978.0 Q1408.0,1003.5 1366.9,978.0 L1124.1,827.5 Q1083.0,802.0 1124.1,776.5 Z" fill="#31509e"/>
<path d="M1366.9,623.0 Q1408.0,597.5 1449.1,623.0 L1691.9,773.5 Q1733.0,799.0 1691.9,824.5 L1449.1,975.0 Q1408.0,1000.5 1366.9,975.0 L1124.1,824.5 Q1083.0,799.0 1124.1,773.5 Z" fill="#31509e"/>
<path d="M1366.9,620.0 Q1408.0,594.5 1449.1,620.0 L1691.9,770.5 Q1733.0,796.0 1691.9,821.5 L1449.1,972.0 Q1408.0,997.5 1366.9,972.0 L1124.1,821.5 Q1083.0,796.0 1124.1,770.5 Z" fill="#31509e"/>
<path d="M1366.9,619.0 Q1408.0,593.5 1449.1,619.0 L1691.9,769.5 Q1733.0,795.0 1691.9,820.5 L1449.1,971.0 Q1408.0,996.5 1366.9,971.0 L1124.1,820.5 Q1083.0,795.0 1124.1,769.5 Z" fill="#3b4f8c" stroke="url(#rimg)" stroke-width="7"/>
<path d="M1372.5,641.7 Q1408.0,620.4 1443.5,641.7 L1663.5,773.7 Q1699.0,795.0 1663.5,816.3 L1443.5,948.3 Q1408.0,969.6 1372.5,948.3 L1152.5,816.3 Q1117.0,795.0 1152.5,773.7 Z" fill="#272f64" stroke="url(#rimg2)" stroke-width="6"/>
<line x1="1262.5" y1="707.7" x2="1553.5" y2="882.3" stroke="#6ab0e8" stroke-width="5"/>
<line x1="1553.5" y1="707.7" x2="1262.5" y2="882.3" stroke="#8a9aee" stroke-width="5"/>
<g fill="none" stroke="url(#trg)" stroke-width="4.2" stroke-linecap="round" stroke-linejoin="round">
<path d="M1407.5,673.0 L1407.5,722.0"/>
<ellipse cx="1407.5" cy="664.0" rx="9" ry="7.2"/>
<path d="M1362.0,692.0 L1370.0,702.0 L1386.0,710.0 L1386.0,724.0"/>
<ellipse cx="1362.0" cy="684.0" rx="8" ry="6.4"/>
<path d="M1318.0,706.0 L1324.0,722.0 L1340.0,730.0 L1358.0,740.0"/>
<ellipse cx="1316.0" cy="702.0" rx="5" ry="4.0"/>
<path d="M1201.0,792.0 L1302.0,792.0"/>
<ellipse cx="1192.0" cy="792.0" rx="9" ry="7.2"/>
<path d="M1243.0,766.0 L1262.0,767.0 L1282.0,778.0 L1306.0,779.0"/>
<ellipse cx="1235.0" cy="765.0" rx="8" ry="6.4"/>
<path d="M1270.0,735.0 L1290.0,741.0 L1326.0,757.0"/>
<ellipse cx="1266.0" cy="733.0" rx="5" ry="4.0"/>
<path d="M1407.5,913.0 L1407.5,864.0"/>
<ellipse cx="1407.5" cy="922.0" rx="9" ry="7.2"/>
<path d="M1362.0,894.0 L1370.0,884.0 L1386.0,876.0 L1386.0,862.0"/>
<ellipse cx="1362.0" cy="902.0" rx="8" ry="6.4"/>
<path d="M1318.0,880.0 L1324.0,864.0 L1340.0,856.0 L1358.0,846.0"/>
<ellipse cx="1316.0" cy="884.0" rx="5" ry="4.0"/>
<path d="M1243.0,820.0 L1262.0,819.0 L1282.0,808.0 L1306.0,807.0"/>
<ellipse cx="1235.0" cy="821.0" rx="8" ry="6.4"/>
<path d="M1270.0,851.0 L1290.0,845.0 L1326.0,829.0"/>
<ellipse cx="1266.0" cy="853.0" rx="5" ry="4.0"/>
<path d="M1454.0,692.0 L1446.0,702.0 L1430.0,710.0 L1430.0,724.0"/>
<ellipse cx="1454.0" cy="684.0" rx="8" ry="6.4"/>
<path d="M1498.0,706.0 L1492.0,722.0 L1476.0,730.0 L1458.0,740.0"/>
<ellipse cx="1500.0" cy="702.0" rx="5" ry="4.0"/>
<path d="M1615.0,792.0 L1514.0,792.0"/>
<ellipse cx="1624.0" cy="792.0" rx="9" ry="7.2"/>
<path d="M1573.0,766.0 L1554.0,767.0 L1534.0,778.0 L1510.0,779.0"/>
<ellipse cx="1581.0" cy="765.0" rx="8" ry="6.4"/>
<path d="M1546.0,735.0 L1526.0,741.0 L1490.0,757.0"/>
<ellipse cx="1550.0" cy="733.0" rx="5" ry="4.0"/>
<path d="M1454.0,894.0 L1446.0,884.0 L1430.0,876.0 L1430.0,862.0"/>
<ellipse cx="1454.0" cy="902.0" rx="8" ry="6.4"/>
<path d="M1498.0,880.0 L1492.0,864.0 L1476.0,856.0 L1458.0,846.0"/>
<ellipse cx="1500.0" cy="884.0" rx="5" ry="4.0"/>
<path d="M1573.0,820.0 L1554.0,819.0 L1534.0,808.0 L1510.0,807.0"/>
<ellipse cx="1581.0" cy="821.0" rx="8" ry="6.4"/>
<path d="M1546.0,851.0 L1526.0,845.0 L1490.0,829.0"/>
<ellipse cx="1550.0" cy="853.0" rx="5" ry="4.0"/>
</g>
<path d="M1384.5,732.1 Q1408.0,717.6 1431.5,732.1 L1504.5,777.5 Q1528.0,792.0 1504.5,806.5 L1431.5,851.9 Q1408.0,866.4 1384.5,851.9 L1311.5,806.5 Q1288.0,792.0 1311.5,777.5 Z" fill="url(#ctrs)" opacity="0.55" filter="url(#blur12)"/>
<path d="M1390.4,747.9 Q1408.0,737.0 1425.6,747.9 L1490.4,788.1 Q1508.0,799.0 1490.4,809.9 L1425.6,850.1 Q1408.0,861.0 1390.4,850.1 L1325.6,809.9 Q1308.0,799.0 1325.6,788.1 Z" fill="#4a4cb8"/>
<path d="M1390.4,743.9 Q1408.0,733.0 1425.6,743.9 L1490.4,784.1 Q1508.0,795.0 1490.4,805.9 L1425.6,846.1 Q1408.0,857.0 1390.4,846.1 L1325.6,805.9 Q1308.0,795.0 1325.6,784.1 Z" fill="#4a4cb8"/>
<path d="M1390.4,739.9 Q1408.0,729.0 1425.6,739.9 L1490.4,780.1 Q1508.0,791.0 1490.4,801.9 L1425.6,842.1 Q1408.0,853.0 1390.4,842.1 L1325.6,801.9 Q1308.0,791.0 1325.6,780.1 Z" fill="#4a4cb8"/>
<path d="M1390.4,747.9 Q1408.0,737.0 1425.6,747.9 L1490.4,788.1 Q1508.0,799.0 1490.4,809.9 L1425.6,850.1 Q1408.0,861.0 1390.4,850.1 L1325.6,809.9 Q1308.0,799.0 1325.6,788.1 Z" fill="none" stroke="#9a6ae8" stroke-width="3"/>
<path d="M1390.4,733.9 Q1408.0,723.0 1425.6,733.9 L1490.4,774.1 Q1508.0,785.0 1490.4,795.9 L1425.6,836.1 Q1408.0,847.0 1390.4,836.1 L1325.6,795.9 Q1308.0,785.0 1325.6,774.1 Z" fill="url(#ctrg)" stroke="url(#ctrs)" stroke-width="7.5"/>
<g fill="none" stroke="#f2f0fc" stroke-width="6.5" stroke-linecap="round"><line x1="1407.3" y1="744" x2="1407.3" y2="822"/><path d="M1390,759.5 Q1370,764 1368.5,781"/><path d="M1368,790 Q1372,804 1390,806"/><path d="M1425,759.5 Q1446,763 1447.5,780"/><path d="M1442.5,789 Q1441,803 1424.5,806"/></g>
<ellipse cx="1407.3" cy="784.7" rx="23" ry="15.5" fill="#f2f0fc"/>
<rect x="701" y="255" width="366" height="313" rx="28" fill="#ffffff" opacity="0.6" filter="url(#blur6)"/>
<rect x="707" y="261" width="354" height="301" rx="22" fill="url(#boxfill)"/>
<rect x="707" y="261" width="354" height="301" rx="22" fill="none" stroke="#6b97d3" stroke-width="4"/>
<rect x="1749" y="255" width="328" height="314" rx="28" fill="#ffffff" opacity="0.6" filter="url(#blur6)"/>
<rect x="1755" y="261" width="316" height="302" rx="22" fill="url(#boxfill)"/>
<rect x="1755" y="261" width="316" height="302" rx="22" fill="none" stroke="#6b97d3" stroke-width="4"/>
<rect x="98" y="671" width="700" height="341" rx="28" fill="#ffffff" opacity="0.6" filter="url(#blur6)"/>
<rect x="104" y="677" width="688" height="329" rx="22" fill="url(#boxfill)"/>
<path d="M128,1006 L126,1006 Q104,1006 104,984 L104,699 Q104,677 126,677 L770,677 Q792,677 792,699 L792,984 Q792,1006 770,1006 L748,1006" fill="none" stroke="#6b97d3" stroke-width="4" stroke-linecap="round"/>
<rect x="2015" y="671" width="702" height="341" rx="28" fill="#ffffff" opacity="0.6" filter="url(#blur6)"/>
<rect x="2021" y="677" width="690" height="329" rx="22" fill="url(#boxfill)"/>
<path d="M2186,1006 L2043,1006 Q2021,1006 2021,984 L2021,699 Q2021,677 2043,677 L2689,677 Q2711,677 2711,699 L2711,984 Q2711,1006 2689,1006 L2525,1006" fill="none" stroke="#6b97d3" stroke-width="4" stroke-linecap="round"/>
<rect x="633" y="1085" width="419" height="351" rx="28" fill="#ffffff" opacity="0.6" filter="url(#blur6)"/>
<rect x="639" y="1091" width="407" height="339" rx="22" fill="url(#boxfill)"/>
<rect x="639" y="1091" width="407" height="339" rx="22" fill="none" stroke="#6b97d3" stroke-width="4"/>
<rect x="1750" y="1085" width="426" height="285" rx="28" fill="#ffffff" opacity="0.6" filter="url(#blur6)"/>
<rect x="1756" y="1091" width="414" height="273" rx="22" fill="url(#boxfill)"/>
<rect x="1756" y="1091" width="414" height="273" rx="22" fill="none" stroke="#6b97d3" stroke-width="4"/>
<path d="M22.2819 9.8211a5.9847 5.9847 0 0 0-.5157-4.9108 6.0462 6.0462 0 0 0-6.5098-2.9A6.0651 6.0651 0 0 0 4.9807 4.1818a5.9847 5.9847 0 0 0-3.9977 2.9 6.0462 6.0462 0 0 0 .7427 7.0966 5.98 5.98 0 0 0 .511 4.9107 6.051 6.051 0 0 0 6.5146 2.9001A5.9847 5.9847 0 0 0 13.2599 24a6.0557 6.0557 0 0 0 5.7718-4.2058 5.9894 5.9894 0 0 0 3.9977-2.9001 6.0557 6.0557 0 0 0-.7475-7.0729zm-9.022 12.6081a4.4755 4.4755 0 0 1-2.8764-1.0408l.1419-.0804 4.7783-2.7582a.7948.7948 0 0 0 .3927-.6813v-6.7369l2.02 1.1686a.071.071 0 0 1 .038.052v5.5826a4.504 4.504 0 0 1-4.4945 4.4944zm-9.6607-4.1254a4.4708 4.4708 0 0 1-.5346-3.0137l.142.0852 4.783 2.7582a.7712.7712 0 0 0 .7806 0l5.8428-3.3685v2.3324a.0804.0804 0 0 1-.0332.0615L9.74 19.9502a4.4992 4.4992 0 0 1-6.1408-1.6464zM2.3408 7.8956a4.485 4.485 0 0 1 2.3655-1.9728V11.6a.7664.7664 0 0 0 .3879.6765l5.8144 3.3543-2.0201 1.1685a.0757.0757 0 0 1-.071 0l-4.8303-2.7865A4.504 4.504 0 0 1 2.3408 7.872zm16.5963 3.8558L13.1038 8.364 15.1192 7.2a.0757.0757 0 0 1 .071 0l4.8303 2.7913a4.4944 4.4944 0 0 1-.6765 8.1042v-5.6772a.79.79 0 0 0-.407-.667zm2.0107-3.0231l-.142-.0852-4.7735-2.7818a.7759.7759 0 0 0-.7854 0L9.409 9.2297V6.8974a.0662.0662 0 0 1 .0284-.0615l4.8303-2.7866a4.4992 4.4992 0 0 1 6.6802 4.66zM8.3065 12.863l-2.02-1.1638a.0804.0804 0 0 1-.038-.0567V6.0742a4.4992 4.4992 0 0 1 7.3757-3.4537l-.142.0805L8.704 5.459a.7948.7948 0 0 0-.3927.6813zm1.0976-2.3654l2.602-1.4998 2.6069 1.4998v2.9994l-2.5974 1.4997-2.6067-1.4997Z" fill="#2c5a8f" transform="translate(254,196.5) scale(3.92)"/>
<defs><linearGradient id="dbg" x1="0" y1="422" x2="0" y2="535" gradientUnits="userSpaceOnUse">
    <stop offset="0" stop-color="#8fd6f2"/><stop offset="0.35" stop-color="#62aeea"/><stop offset="0.7" stop-color="#6382e2"/><stop offset="1" stop-color="#7a66d8"/></linearGradient></defs>
<path d="M256.0,437 L256.0,520 A44.5,13 0 0 0 345.0,520 L345.0,437 Z" fill="url(#dbg)" stroke="#1f3566" stroke-width="5"/>
<path d="M256.0,464.6666666666667 A44.5,13 0 0 0 345.0,464.6666666666667" fill="none" stroke="#1f3566" stroke-width="5"/>
<ellipse cx="331.0" cy="454.83333333333337" rx="3" ry="3.5" fill="#f0f4ff"/>
<path d="M256.0,492.3333333333333 A44.5,13 0 0 0 345.0,492.3333333333333" fill="none" stroke="#1f3566" stroke-width="5"/>
<ellipse cx="331.0" cy="482.5" rx="3" ry="3.5" fill="#f0f4ff"/>
<ellipse cx="331.0" cy="510.1666666666667" rx="3" ry="3.5" fill="#f0f4ff"/>
<ellipse cx="300.5" cy="437" rx="44.5" ry="13" fill="#8ed8f2" stroke="#1f3566" stroke-width="5"/>
<defs><linearGradient id="bdg1" x1="389" y1="0" x2="707" y2="0" gradientUnits="userSpaceOnUse">
      <stop offset="0" stop-color="#5cc0f0" stop-opacity="0"/><stop offset="0.12" stop-color="#5cc0f0"/><stop offset="1" stop-color="#5ec8f2"/></linearGradient></defs>
<rect x="389" y="312" width="320" height="24" fill="url(#bdg1)" opacity="0.35" filter="url(#blur3)"/>
<path d="M433,303.34150809787525 L433,317 M444,296.4611653694245 L444,317 M455,286.76792974515615 L455,317 M466,274.73588127220233 L466,317 M500,280.32936979785967 L500,317 M511,289.62901307966706 L511,317 M522,296.33888228299645 L522,317 M533,300.4589774078478 L533,317 M544,301.98929845422117 L544,317 M555,300.9298454221165 L555,317 M566,297.2806183115339 L566,317 M577,291.04161712247327 L577,317 M588,282.2128418549346 L588,317 M599,270.794292508918 L599,317 M622,272.3200367420622 L622,317 M633,284.74458295742875 L633,317 M644,294.88975551165265 L644,317 M655,302.3349861267512 L655,317 " stroke="#2b5a96" stroke-width="3" fill="none"/>
<path d="M424,306 Q462,300 477,258 M487,262 Q545,340 603,262 M614,258 Q628,300 666,306" stroke="#2b5a96" stroke-width="4.5" fill="none" stroke-linecap="round"/>
<rect x="395" y="317" width="312" height="13" fill="url(#bdg1)"/>
<path d="M440,317 L707,317 M440,330 L707,330" stroke="#2b5a96" stroke-width="3.5" opacity="0.9"/>
<path d="M475.5,252 L486.5,252 L490,352 L472,352 Z" fill="#5aa6e8" stroke="#2b5a96" stroke-width="3.5" stroke-linejoin="round"/>
<rect x="464" y="352" width="34" height="12" fill="#5aa6e8" stroke="#2b5a96" stroke-width="3.5"/>
<path d="M603.0,252 L614.0,252 L617.5,352 L599.5,352 Z" fill="#5aa6e8" stroke="#2b5a96" stroke-width="3.5" stroke-linejoin="round"/>
<rect x="591.5" y="352" width="34" height="12" fill="#5aa6e8" stroke="#2b5a96" stroke-width="3.5"/>
<defs><linearGradient id="bdg2" x1="389" y1="0" x2="707" y2="0" gradientUnits="userSpaceOnUse">
      <stop offset="0" stop-color="#8a76e0" stop-opacity="0"/><stop offset="0.12" stop-color="#8a76e0"/><stop offset="1" stop-color="#b27ae6"/></linearGradient></defs>
<rect x="389" y="482" width="320" height="24" fill="url(#bdg2)" opacity="0.35" filter="url(#blur3)"/>
<path d="M433,473.34150809787525 L433,487 M444,466.4611653694245 L444,487 M455,456.76792974515615 L455,487 M466,444.73588127220233 L466,487 M500,450.32936979785967 L500,487 M511,459.62901307966706 L511,487 M522,466.33888228299645 L522,487 M533,470.4589774078478 L533,487 M544,471.98929845422117 L544,487 M555,470.9298454221165 L555,487 M566,467.2806183115339 L566,487 M577,461.04161712247327 L577,487 M588,452.2128418549346 L588,487 M599,440.794292508918 L599,487 M622,442.3200367420622 L622,487 M633,454.74458295742875 L633,487 M644,464.88975551165265 L644,487 M655,472.3349861267512 L655,487 " stroke="#3c3f8e" stroke-width="3" fill="none"/>
<path d="M424,476 Q462,470 477,428 M487,432 Q545,510 603,432 M614,428 Q628,470 666,476" stroke="#3c3f8e" stroke-width="4.5" fill="none" stroke-linecap="round"/>
<rect x="395" y="487" width="312" height="13" fill="url(#bdg2)"/>
<path d="M440,487 L707,487 M440,500 L707,500" stroke="#3c3f8e" stroke-width="3.5" opacity="0.9"/>
<path d="M475.5,422 L486.5,422 L490,522 L472,522 Z" fill="#7c72dc" stroke="#3c3f8e" stroke-width="3.5" stroke-linejoin="round"/>
<rect x="464" y="522" width="34" height="12" fill="#7c72dc" stroke="#3c3f8e" stroke-width="3.5"/>
<path d="M603.0,422 L614.0,422 L617.5,522 L599.5,522 Z" fill="#7c72dc" stroke="#3c3f8e" stroke-width="3.5" stroke-linejoin="round"/>
<rect x="591.5" y="522" width="34" height="12" fill="#7c72dc" stroke="#3c3f8e" stroke-width="3.5"/>
<defs>
<linearGradient id="arU" x1="770" y1="392" x2="910" y2="295" gradientUnits="userSpaceOnUse"><stop offset="0" stop-color="#4f8fe0"/><stop offset="0.5" stop-color="#56c0ea"/><stop offset="1" stop-color="#62dcec"/></linearGradient>
<linearGradient id="arD" x1="770" y1="392" x2="910" y2="488" gradientUnits="userSpaceOnUse"><stop offset="0" stop-color="#5a9ce6"/><stop offset="0.5" stop-color="#5f86e2"/><stop offset="1" stop-color="#6a66d6"/></linearGradient>
<linearGradient id="arR" x1="855" y1="0" x2="998" y2="0" gradientUnits="userSpaceOnUse"><stop offset="0" stop-color="#7a6ee0"/><stop offset="1" stop-color="#c07ae6"/></linearGradient>
</defs>
<path d="M850,375 L951,375 L951,357.5 L997.6,392 L951,427 L951,409 L850,409 Z" fill="url(#arR)" stroke="#1f2b5c" stroke-width="4.5" stroke-linejoin="round"/>
<path d="M771,394 L800,394 C845,394 872,410 893,447" fill="none" stroke="#1f2b5c" stroke-width="38" stroke-linecap="butt"/>
<path d="M856,465 L911,489 L918,432 Z" fill="url(#arD)" stroke="#1f2b5c" stroke-width="4.5" stroke-linejoin="round"/>
<path d="M771,394 L800,394 C845,394 872,410 893,447" fill="none" stroke="url(#arD)" stroke-width="29" stroke-linecap="butt"/>
<path d="M771,391 L800,391 C845,391 872,376 893,339" fill="none" stroke="#1f2b5c" stroke-width="38" stroke-linecap="butt"/>
<path d="M856,320 L909.4,295 L918,351 Z" fill="url(#arU)" stroke="#1f2b5c" stroke-width="4.5" stroke-linejoin="round"/>
<path d="M771,391 L800,391 C845,391 872,376 893,339" fill="none" stroke="url(#arU)" stroke-width="29" stroke-linecap="butt"/>
<path d="M773,374.5 L773,410.5" stroke="#1f2b5c" stroke-width="4"/>
<defs><linearGradient id="brg" x1="0" y1="300" x2="0" y2="483" gradientUnits="userSpaceOnUse">
<stop offset="0" stop-color="#5ad8e8"/><stop offset="0.35" stop-color="#5ab8ea"/><stop offset="0.65" stop-color="#6a88e4"/><stop offset="1" stop-color="#8a66dc"/></linearGradient></defs>
<path d="M1916,314 A21.6,21.6 0 0 0 1880,312 A30.1,30.1 0 0 0 1843,346 A24.7,24.7 0 0 0 1833,386 A23.6,23.6 0 0 0 1838,425 A19.9,19.9 0 0 0 1854,454 A19.1,19.1 0 0 0 1877,476 A21.4,21.4 0 0 0 1912,483 Q1916,483 1916,470 Z" fill="url(#brg)" stroke="#1f2b5c" stroke-width="5.5" stroke-linejoin="round"/>
<path d="M1928,314 A21.6,21.6 0 0 1 1964,312 A30.1,30.1 0 0 1 2001,346 A24.7,24.7 0 0 1 2011,386 A23.6,23.6 0 0 1 2006,425 A19.9,19.9 0 0 1 1990,454 A19.1,19.1 0 0 1 1967,476 A21.4,21.4 0 0 1 1932,483 Q1928,483 1928,470 Z" fill="url(#brg)" stroke="#1f2b5c" stroke-width="5.5" stroke-linejoin="round"/>
<path d="M1898,318 Q1893,330 1903,338 Q1896,350 1900,362" fill="none" stroke="#1f2b5c" stroke-width="4.5" stroke-linecap="round"/>
<path d="M1898,318 Q1893,330 1903,338 Q1896,350 1900,362" fill="none" stroke="#1f2b5c" stroke-width="4.5" stroke-linecap="round" transform="translate(3844,0) scale(-1,1)"/>
<path d="M1858,352 Q1872,346 1880,358 Q1888,372 1904,374" fill="none" stroke="#1f2b5c" stroke-width="4.5" stroke-linecap="round"/>
<path d="M1858,352 Q1872,346 1880,358 Q1888,372 1904,374" fill="none" stroke="#1f2b5c" stroke-width="4.5" stroke-linecap="round" transform="translate(3844,0) scale(-1,1)"/>
<path d="M1848,398 Q1862,388 1872,398 L1878,412" fill="none" stroke="#1f2b5c" stroke-width="4.5" stroke-linecap="round"/>
<path d="M1848,398 Q1862,388 1872,398 L1878,412" fill="none" stroke="#1f2b5c" stroke-width="4.5" stroke-linecap="round" transform="translate(3844,0) scale(-1,1)"/>
<path d="M1862,430 Q1880,420 1890,436" fill="none" stroke="#1f2b5c" stroke-width="4.5" stroke-linecap="round"/>
<path d="M1862,430 Q1880,420 1890,436" fill="none" stroke="#1f2b5c" stroke-width="4.5" stroke-linecap="round" transform="translate(3844,0) scale(-1,1)"/>
<path d="M1872,460 Q1884,452 1896,462" fill="none" stroke="#1f2b5c" stroke-width="4.5" stroke-linecap="round"/>
<path d="M1872,460 Q1884,452 1896,462" fill="none" stroke="#1f2b5c" stroke-width="4.5" stroke-linecap="round" transform="translate(3844,0) scale(-1,1)"/>
<path d="M1888,392 Q1900,400 1904,416 L1896,428" fill="none" stroke="#1f2b5c" stroke-width="4.5" stroke-linecap="round"/>
<path d="M1888,392 Q1900,400 1904,416 L1896,428" fill="none" stroke="#1f2b5c" stroke-width="4.5" stroke-linecap="round" transform="translate(3844,0) scale(-1,1)"/>
<defs>
<linearGradient id="ug" x1="0" y1="360" x2="0" y2="440" gradientUnits="userSpaceOnUse"><stop offset="0" stop-color="#6ab8ee"/><stop offset="1" stop-color="#5a8ae2"/></linearGradient>
<linearGradient id="mg" x1="0" y1="365" x2="0" y2="420" gradientUnits="userSpaceOnUse"><stop offset="0" stop-color="#6adcf0"/><stop offset="1" stop-color="#4a9ae6"/></linearGradient>
<linearGradient id="cg" x1="2610" y1="355" x2="2680" y2="440" gradientUnits="userSpaceOnUse"><stop offset="0" stop-color="#6acdf0"/><stop offset="0.5" stop-color="#7aa0ea"/><stop offset="1" stop-color="#9a6ee0"/></linearGradient>
</defs>
<circle cx="2151.3" cy="382.5" r="16.5" fill="url(#ug)" stroke="#1f2b5c" stroke-width="4.5"/>
<path d="M2117,437 C2117,414 2131,405 2151,405 C2171,405 2185,414 2185,437 Z" fill="url(#ug)" stroke="#1f2b5c" stroke-width="4.5" stroke-linejoin="round"/>
<path d="M2210.7,397.6 L2248,397.6 M2234,383.6 L2250,397.6 L2234,411.6" fill="none" stroke="#66a8ea" stroke-width="9" stroke-linecap="round" stroke-linejoin="round"/>
<path d="M2372,397.6 L2409,397.6 M2395,383.6 L2411,397.6 L2395,411.6" fill="none" stroke="#66a8ea" stroke-width="9" stroke-linecap="round" stroke-linejoin="round"/>
<path d="M2541,397.6 L2578,397.6 M2564,383.6 L2580,397.6 L2564,411.6" fill="none" stroke="#9a88e8" stroke-width="9" stroke-linecap="round" stroke-linejoin="round"/>
<path d="M2326,413 L2350,436" stroke="#1f2b5c" stroke-width="14" stroke-linecap="round"/>
<path d="M2327,414 L2349,435" stroke="#5a5cc8" stroke-width="6" stroke-linecap="round"/>
<circle cx="2306" cy="392" r="25.5" fill="url(#mg)" stroke="#1f2b5c" stroke-width="5"/>
<path d="M2292,380 Q2300,372 2312,374" fill="none" stroke="#a8f0fa" stroke-width="3" opacity="0.7"/>
<rect x="2433.5" y="353" width="89" height="89" rx="9" fill="#dfe6ef" stroke="#1f2b5c" stroke-width="4.5"/>
<path d="M2435.5,371 L2435.5,362 Q2435.5,355 2442.5,355 L2513.5,355 Q2520.5,355 2520.5,362 L2520.5,371 Z" fill="#5a9ee8"/>
<line x1="2433.5" y1="371" x2="2522.5" y2="371" stroke="#1f2b5c" stroke-width="4"/>
<circle cx="2444" cy="362.5" r="2.8" fill="#eaf4ff"/><circle cx="2452" cy="362.5" r="2.8" fill="#eaf4ff"/>
<rect x="2447" y="383" width="10" height="10" rx="2" fill="#8ab0e0" stroke="#1f2b5c" stroke-width="3"/>
<line x1="2467" y1="388" x2="2494" y2="388" stroke="#1f2b5c" stroke-width="3.5" stroke-linecap="round"/>
<rect x="2447" y="399" width="10" height="10" rx="2" fill="#8ab0e0" stroke="#1f2b5c" stroke-width="3"/>
<line x1="2467" y1="404" x2="2510" y2="404" stroke="#1f2b5c" stroke-width="3.5" stroke-linecap="round"/>
<rect x="2447" y="415" width="10" height="10" rx="2" fill="#8ab0e0" stroke="#1f2b5c" stroke-width="3"/>
<line x1="2467" y1="420" x2="2494" y2="420" stroke="#1f2b5c" stroke-width="3.5" stroke-linecap="round"/>
<circle cx="2644" cy="397.6" r="42" fill="url(#cg)" stroke="#1f2b5c" stroke-width="5"/>
<path d="M2624,398 L2638,412 L2666,382" fill="none" stroke="#1f2b5c" stroke-width="7" stroke-linecap="round" stroke-linejoin="round"/>
<defs>
<linearGradient id="tbf" x1="0" y1="831" x2="0" y2="916" gradientUnits="userSpaceOnUse"><stop offset="0" stop-color="#95a6e2"/><stop offset="0.35" stop-color="#7a7cd0"/><stop offset="1" stop-color="#6656b8"/></linearGradient>
<linearGradient id="tbi" x1="0" y1="760" x2="0" y2="831" gradientUnits="userSpaceOnUse"><stop offset="0" stop-color="#5a60b0"/><stop offset="1" stop-color="#45427e"/></linearGradient>
<linearGradient id="gb" x1="0" y1="712" x2="0" y2="795" gradientUnits="userSpaceOnUse"><stop offset="0" stop-color="#6cc4f0"/><stop offset="1" stop-color="#4a8ee2"/></linearGradient>
<linearGradient id="bb" x1="0" y1="713" x2="0" y2="790" gradientUnits="userSpaceOnUse"><stop offset="0" stop-color="#64c8f0"/><stop offset="1" stop-color="#4a9ae6"/></linearGradient>
</defs>
<path d="M178,833 L190,772 Q192,762 202,762 L354,762 Q364,762 366,772 L376,833 Z" fill="#8e9ee0" stroke="#1f2b5c" stroke-width="4.5" stroke-linejoin="round"/>
<path d="M192,833 L200,774 L356,774 L364,833 Z" fill="url(#tbi)" stroke="#1f2b5c" stroke-width="3.5" stroke-linejoin="round"/>
<path d="M182,748 Q176,734 186,722 L196,733 L208,728 L210,714 Q224,712 232,728 Q236,740 228,750 L262,828 L246,834 L212,758 Q194,762 182,748 Z" fill="#c4d8ec" stroke="#1f2b5c" stroke-width="4.5" stroke-linejoin="round"/>
<path d="M289.7,811.6 L290.0,815.2 L297.0,816.1 L295.7,823.1 L288.9,821.7 L287.4,824.9 L286.3,826.6 L284.0,829.3 L288.3,834.9 L282.4,839.0 L278.6,833.0 L275.3,834.3 L273.4,834.7 L269.8,835.0 L268.9,842.0 L261.9,840.7 L263.3,833.9 L260.1,832.4 L258.4,831.3 L255.7,829.0 L250.1,833.3 L246.0,827.4 L252.0,823.6 L250.7,820.3 L250.3,818.4 L250.0,814.8 L243.0,813.9 L244.3,806.9 L251.1,808.3 L252.6,805.1 L253.7,803.4 L256.0,800.7 L251.7,795.1 L257.6,791.0 L261.4,797.0 L264.7,795.7 L266.6,795.3 L270.2,795.0 L271.1,788.0 L278.1,789.3 L276.7,796.1 L279.9,797.6 L281.6,798.7 L284.3,801.0 L289.9,796.7 L294.0,802.6 L288.0,806.4 L289.3,809.7 Z" fill="#c2d6ea" stroke="#1f2b5c" stroke-width="4.5" stroke-linejoin="round"/>
<circle cx="270" cy="815" r="9" fill="#4e4a8e" stroke="#1f2b5c" stroke-width="4.5"/>
<path d="M341.0,753.2 L340.3,758.5 L348.8,761.7 L344.9,771.2 L336.6,767.7 L333.4,771.9 L331.3,774.1 L327.1,777.3 L330.8,785.6 L321.4,789.6 L318.0,781.2 L312.7,781.9 L309.8,782.0 L304.5,781.3 L301.3,789.8 L291.8,785.9 L295.3,777.6 L291.1,774.4 L288.9,772.3 L285.7,768.1 L277.4,771.8 L273.4,762.4 L281.8,759.0 L281.1,753.7 L281.0,750.8 L281.7,745.5 L273.2,742.3 L277.1,732.8 L285.4,736.3 L288.6,732.1 L290.7,729.9 L294.9,726.7 L291.2,718.4 L300.6,714.4 L304.0,722.8 L309.3,722.1 L312.2,722.0 L317.5,722.7 L320.7,714.2 L330.2,718.1 L326.7,726.4 L330.9,729.6 L333.1,731.7 L336.3,735.9 L344.6,732.2 L348.6,741.6 L340.2,745.0 L340.9,750.3 Z" fill="url(#gb)" stroke="#1f2b5c" stroke-width="4.5" stroke-linejoin="round"/>
<circle cx="311" cy="752" r="14" fill="#eef1f6" stroke="#1f2b5c" stroke-width="4.5"/>
<path d="M174,831 L380,831 L380,906 Q380,916 370,916 L184,916 Q174,916 174,906 Z" fill="url(#tbf)" stroke="#1f2b5c" stroke-width="4.5" stroke-linejoin="round"/>
<rect x="177" y="834" width="200" height="6" fill="#a6c2ec" opacity="0.9"/>
<rect x="211" y="824" width="19" height="29" rx="3" fill="#a8cce6" stroke="#1f2b5c" stroke-width="4"/>
<rect x="324" y="824" width="19" height="29" rx="3" fill="#a8cce6" stroke="#1f2b5c" stroke-width="4"/>
<path d="M401,713 L472,713 Q484,713 484,725 L484,772 Q484,784 472,784 L431.6,784 L409.6,801.5 L409.6,784 L401,784 Q389,784 389,772 L389,725 Q389,713 401,713 Z" fill="url(#bb)" stroke="#1f2b5c" stroke-width="4.5" stroke-linejoin="round"/>
<path d="M408,730 L424,744 L408,758 M431,760 L462,760" fill="none" stroke="#1f2b5c" stroke-width="4.5" stroke-linecap="round" stroke-linejoin="round"/>
<path d="M504.5,833 L516.5,772 Q518.5,762 528.5,762 L680.5,762 Q690.5,762 692.5,772 L702.5,833 Z" fill="#8e9ee0" stroke="#1f2b5c" stroke-width="4.5" stroke-linejoin="round"/>
<path d="M518.5,833 L526.5,774 L682.5,774 L690.5,833 Z" fill="url(#tbi)" stroke="#1f2b5c" stroke-width="3.5" stroke-linejoin="round"/>
<path d="M573.9,794.0 L579.9,794.8 L583.5,785.4 L594.2,789.7 L590.2,799.0 L595.1,802.6 L597.5,805.0 L601.2,809.8 L610.4,805.6 L614.9,816.3 L605.6,820.0 L606.4,826.0 L606.5,829.4 L605.7,835.4 L615.1,839.0 L610.8,849.7 L601.5,845.7 L597.9,850.6 L595.5,853.0 L590.7,856.7 L594.9,865.9 L584.2,870.4 L580.5,861.1 L574.5,861.9 L571.1,862.0 L565.1,861.2 L561.5,870.6 L550.8,866.3 L554.8,857.0 L549.9,853.4 L547.5,851.0 L543.8,846.2 L534.6,850.4 L530.1,839.7 L539.4,836.0 L538.6,830.0 L538.5,826.6 L539.3,820.6 L529.9,817.0 L534.2,806.3 L543.5,810.3 L547.1,805.4 L549.5,803.0 L554.3,799.3 L550.1,790.1 L560.8,785.6 L564.5,794.9 L570.5,794.1 Z" fill="#c2dcea" stroke="#1f2b5c" stroke-width="4.5" stroke-linejoin="round"/>
<circle cx="572.5" cy="828" r="18" fill="#454884" stroke="#1f2b5c" stroke-width="4.5"/>
<path d="M500.5,831 L706.5,831 L706.5,906 Q706.5,916 696.5,916 L510.5,916 Q500.5,916 500.5,906 Z" fill="url(#tbf)" stroke="#1f2b5c" stroke-width="4.5" stroke-linejoin="round"/>
<rect x="503.5" y="834" width="200.0" height="6" fill="#a6c2ec" opacity="0.9"/>
<rect x="537.5" y="824" width="19" height="29" rx="3" fill="#a8cce6" stroke="#1f2b5c" stroke-width="4"/>
<rect x="650.5" y="824" width="19" height="29" rx="3" fill="#a8cce6" stroke="#1f2b5c" stroke-width="4"/>
<path d="M628,718 L697,718 Q709,718 709,730 L709,777 Q709,789 697,789 L658.4,789 L636.4,808.9 L636.4,789 L628,789 Q616,789 616,777 L616,730 Q616,718 628,718 Z" fill="#dbe8f2" stroke="#1f2b5c" stroke-width="4.5" stroke-linejoin="round"/>
<path d="M635,736 L651,750 L635,764 M658,769 L690,769" fill="none" stroke="#1f2b5c" stroke-width="4.5" stroke-linecap="round" stroke-linejoin="round"/>
<defs>
<linearGradient id="scg" x1="0" y1="722" x2="0" y2="917" gradientUnits="userSpaceOnUse"><stop offset="0" stop-color="#e6eef7"/><stop offset="1" stop-color="#bcd4ec"/></linearGradient>
<linearGradient id="chb" x1="0" y1="725" x2="0" y2="805" gradientUnits="userSpaceOnUse"><stop offset="0" stop-color="#64c4f0"/><stop offset="1" stop-color="#4e96e4"/></linearGradient>
<linearGradient id="chp" x1="0" y1="725" x2="0" y2="940" gradientUnits="userSpaceOnUse"><stop offset="0" stop-color="#b090ec"/><stop offset="1" stop-color="#9a78e0"/></linearGradient>
<linearGradient id="dots" x1="0" y1="776" x2="0" y2="838" gradientUnits="userSpaceOnUse"><stop offset="0" stop-color="#58b6ee"/><stop offset="1" stop-color="#4a84e0"/></linearGradient>
</defs>
<path d="M2104,724 L2226,724 L2226,903 Q2226,916 2213,916 L2104,916 Z" fill="url(#scg)" stroke="#1f2b5c" stroke-width="4.5" stroke-linejoin="round"/>
<path d="M2104,750 L2081,750 L2081,736 Q2081,722 2093,722 Q2104,722 2104,736 Z" fill="#90b2de" stroke="#1f2b5c" stroke-width="4.5" stroke-linejoin="round"/>
<path d="M2226,750 L2249,750 L2249,736 Q2249,722 2237,722 Q2226,722 2226,736 Z" fill="#90b2de" stroke="#1f2b5c" stroke-width="4.5" stroke-linejoin="round"/>
<line x1="2093" y1="722" x2="2237" y2="722" stroke="#1f2b5c" stroke-width="4.5"/>
<path d="M2082,888 L2209,888 C2199,896 2199,912 2213,916 L2090,916 Q2082,916 2082,906 Z" fill="#c2d8ee" stroke="#1f2b5c" stroke-width="4.5" stroke-linejoin="round"/>
<line x1="2121" y1="750.7" x2="2208" y2="750.7" stroke="#7c9acc" stroke-width="4.5" stroke-linecap="round"/>
<line x1="2121" y1="764.8" x2="2198" y2="764.8" stroke="#7c9acc" stroke-width="4.5" stroke-linecap="round"/>
<line x1="2121" y1="780.5" x2="2170" y2="780.5" stroke="#7c9acc" stroke-width="4.5" stroke-linecap="round"/>
<line x1="2121" y1="795.3" x2="2168" y2="795.3" stroke="#7c9acc" stroke-width="4.5" stroke-linecap="round"/>
<line x1="2121" y1="810.2" x2="2168" y2="810.2" stroke="#7c9acc" stroke-width="4.5" stroke-linecap="round"/>
<line x1="2121" y1="825.1" x2="2168" y2="825.1" stroke="#7c9acc" stroke-width="4.5" stroke-linecap="round"/>
<line x1="2121" y1="841.5" x2="2180" y2="841.5" stroke="#7c9acc" stroke-width="4.5" stroke-linecap="round"/>
<line x1="2121" y1="856.4" x2="2124" y2="856.4" stroke="#7c9acc" stroke-width="4.5" stroke-linecap="round"/>
<line x1="2136" y1="856.4" x2="2208" y2="856.4" stroke="#7c9acc" stroke-width="4.5" stroke-linecap="round"/>
<line x1="2121" y1="869.7" x2="2174" y2="869.7" stroke="#7c9acc" stroke-width="4.5" stroke-linecap="round"/>
<path d="M2192,777 L2252,777 Q2265,777 2265,791 L2265,810 Q2265,824 2252,824 L2214,824 L2197.6,837.6 L2197.6,822 Q2179,818 2179,806 L2179,791 Q2179,777 2192,777 Z" fill="url(#dots)" stroke="#1f2b5c" stroke-width="4.5" stroke-linejoin="round"/>
<circle cx="2204" cy="800.8" r="4.6" fill="#d8f8ff"/>
<circle cx="2222.7" cy="800.8" r="4.6" fill="#d8f8ff"/>
<circle cx="2242" cy="800.8" r="4.6" fill="#d8f8ff"/>
<path d="M2367,728 L2443,728 Q2455,728 2455,740 L2455,776.5 Q2455,788.5 2443,788.5 L2401,788.5 L2377,804 L2377,788.5 L2367,788.5 Q2355,788.5 2355,776.5 L2355,740 Q2355,728 2367,728 Z" fill="url(#chb)" stroke="#1f2b5c" stroke-width="4.5" stroke-linejoin="round"/>
<line x1="2372" y1="743.7" x2="2439.0" y2="743.7" stroke="#3a72c8" stroke-width="4" stroke-linecap="round"/>
<line x1="2372" y1="756.4" x2="2439.0" y2="756.4" stroke="#3a72c8" stroke-width="4" stroke-linecap="round"/>
<line x1="2372" y1="769.1" x2="2407.0" y2="769.1" stroke="#3a72c8" stroke-width="4" stroke-linecap="round"/>
<path d="M2587,728 L2665,728 Q2677,728 2677,740 L2677,776.5 Q2677,788.5 2665,788.5 L2620,788.5 L2596,804 L2596,788.5 L2587,788.5 Q2575,788.5 2575,776.5 L2575,740 Q2575,728 2587,728 Z" fill="url(#chp)" stroke="#1f2b5c" stroke-width="4.5" stroke-linejoin="round"/>
<line x1="2592" y1="743.7" x2="2661.0" y2="743.7" stroke="#6a4cc0" stroke-width="4" stroke-linecap="round"/>
<line x1="2592" y1="756.4" x2="2661.0" y2="756.4" stroke="#6a4cc0" stroke-width="4" stroke-linecap="round"/>
<line x1="2592" y1="769.1" x2="2628.0" y2="769.1" stroke="#6a4cc0" stroke-width="4" stroke-linecap="round"/>
<path d="M2452,877 L2494.5,877 L2518.5,860 L2518.5,877 L2528,877 Q2540,877 2540,889 L2540,925 Q2540,937 2528,937 L2452,937 Q2440,937 2440,925 L2440,889 Q2440,877 2452,877 Z" fill="url(#chp)" stroke="#1f2b5c" stroke-width="4.5" stroke-linejoin="round"/>
<line x1="2457" y1="892.6" x2="2524.0" y2="892.6" stroke="#6a4cc0" stroke-width="4" stroke-linecap="round"/>
<line x1="2457" y1="905.2" x2="2524.0" y2="905.2" stroke="#6a4cc0" stroke-width="4" stroke-linecap="round"/>
<line x1="2457" y1="917.8" x2="2492.0" y2="917.8" stroke="#6a4cc0" stroke-width="4" stroke-linecap="round"/>
<line x1="2291" y1="834.8" x2="2662" y2="834.8" stroke="#7c8ee0" stroke-width="7" stroke-linecap="round"/>
<circle cx="2284" cy="834.8" r="3.5" fill="#7c8ee0"/>
<path d="M2656,822 L2682,834.8 L2656,848 Z" fill="#7c9ae4"/>
<circle cx="2376.6" cy="834.8" r="12" fill="#5ac0ea" stroke="#1f2b5c" stroke-width="4.5"/>
<circle cx="2487.7" cy="834.8" r="12" fill="#7a90e0" stroke="#1f2b5c" stroke-width="4.5"/>
<circle cx="2598" cy="834.8" r="12" fill="#a47ee0" stroke="#1f2b5c" stroke-width="4.5"/>
<defs>
<linearGradient id="shL" x1="760" y1="1130" x2="840" y2="1340" gradientUnits="userSpaceOnUse"><stop offset="0" stop-color="#6ae0f0"/><stop offset="0.6" stop-color="#4ea0e8"/><stop offset="1" stop-color="#6a6ee0"/></linearGradient>
<linearGradient id="shR" x1="850" y1="1130" x2="920" y2="1340" gradientUnits="userSpaceOnUse"><stop offset="0" stop-color="#4a9ae8"/><stop offset="0.6" stop-color="#3e74dc"/><stop offset="1" stop-color="#5a5ad8"/></linearGradient>
<linearGradient id="shO" x1="0" y1="1118" x2="0" y2="1351" gradientUnits="userSpaceOnUse"><stop offset="0" stop-color="#7ad0f0"/><stop offset="1" stop-color="#7a6ae0"/></linearGradient>
<linearGradient id="aC" x1="669" y1="0" x2="835" y2="0" gradientUnits="userSpaceOnUse"><stop offset="0" stop-color="#5ad4ec"/><stop offset="1" stop-color="#62c8ee"/></linearGradient>
<linearGradient id="aP" x1="669" y1="0" x2="1016" y2="0" gradientUnits="userSpaceOnUse"><stop offset="0" stop-color="#9a72e4"/><stop offset="1" stop-color="#b08aee"/></linearGradient>
<linearGradient id="aPD" x1="853" y1="1244" x2="998" y2="1340" gradientUnits="userSpaceOnUse"><stop offset="0" stop-color="#a07ee8"/><stop offset="1" stop-color="#5a80e6"/></linearGradient>
</defs>
<path d="M790.0,1189.0 L705.0,1189.0 L705.0,1173.0 L669.0,1198.0 L705.0,1223.0 L705.0,1207.0 L790.0,1207.0 Z" fill="url(#aC)" stroke="#1f2b5c" stroke-width="4.5" stroke-linejoin="round"/>
<path d="M800.0,1286.0 L705.0,1286.0 L705.0,1270.0 L669.0,1295.0 L705.0,1320.0 L705.0,1304.0 L800.0,1304.0 Z" fill="url(#aP)" stroke="#1f2b5c" stroke-width="4.5" stroke-linejoin="round"/>
<path d="M842.5,1118 C815,1138 782,1148 748,1151 L748,1210 C748,1285 800,1330 844,1351 C888,1330 937,1285 937,1210 L937,1151 C903,1148 870,1138 842.5,1118 Z" fill="url(#shO)" stroke="#1f2b5c" stroke-width="5" stroke-linejoin="round"/>
<path d="M842.5,1138 C820,1154 794,1163 768,1166 L768,1212 C768,1274 808,1312 844,1331 C880,1312 917,1274 917,1212 L917,1166 C891,1163 865,1154 842.5,1138 Z" fill="url(#shL)" stroke="#1f2b5c" stroke-width="4.5" stroke-linejoin="round"/>
<path d="M842.5,1140 C865,1155 891,1164 915,1167 L915,1212 C915,1274 878,1311 844,1329 Z" fill="url(#shR)"/>
<rect x="722" y="1233" width="30" height="23" fill="#62c8ee" opacity="0.55" filter="url(#blur3)"/>
<path d="M740.0,1254.4 L803.0,1254.4 L803.0,1269.4 L835.0,1244.4 L803.0,1219.4 L803.0,1234.4 L740.0,1234.4 Z" fill="url(#aC)" stroke="#1f2b5c" stroke-width="4.5" stroke-linejoin="round"/>
<path d="M877.1,1250.8 L976.0,1176.3 L984.1,1187.0 L998.0,1149.0 L957.6,1151.9 L965.7,1162.7 L866.9,1237.2 Z" fill="url(#aP)" stroke="#1f2b5c" stroke-width="4.5" stroke-linejoin="round"/>
<path d="M866.8,1250.8 L965.8,1326.2 L957.6,1336.9 L998.0,1340.0 L984.3,1301.9 L976.1,1312.6 L877.2,1237.2 Z" fill="url(#aPD)" stroke="#1f2b5c" stroke-width="4.5" stroke-linejoin="round"/>
<path d="M872.0,1253.4 L980.0,1253.4 L980.0,1268.4 L1016.0,1244.4 L980.0,1220.4 L980.0,1235.4 L872.0,1235.4 Z" fill="url(#aP)" stroke="#1f2b5c" stroke-width="4.5" stroke-linejoin="round"/>
<path d="M853,1244.4 L886,1206 L886,1283 Z" fill="#b48cf0" stroke="#1f2b5c" stroke-width="4.5" stroke-linejoin="round"/>
<path d="M884,1236 L900,1236 L900,1253 L884,1253 Z" fill="#b08aee"/>
<defs>
<linearGradient id="mxg" x1="1813" y1="1134" x2="2114" y2="1333" gradientUnits="userSpaceOnUse"><stop offset="0" stop-color="#7a90b8"/><stop offset="0.5" stop-color="#6a72b4"/><stop offset="1" stop-color="#5a56a8"/></linearGradient>
<linearGradient id="pill" x1="2025" y1="0" x2="2090" y2="0" gradientUnits="userSpaceOnUse"><stop offset="0" stop-color="#5ac8f0"/><stop offset="0.7" stop-color="#7aa6ee"/><stop offset="0.72" stop-color="#c890e8"/><stop offset="1" stop-color="#c890e8"/></linearGradient>
<radialGradient id="knob" cx="0.4" cy="0.35" r="0.7"><stop offset="0" stop-color="#c8d0dc"/><stop offset="1" stop-color="#8a94aa"/></radialGradient>
</defs>
<rect x="1815.5" y="1136" width="297" height="194.5" rx="16" fill="#8c9ee0" stroke="#1f2b5c" stroke-width="5"/>
<rect x="1822" y="1142" width="284" height="182" rx="11" fill="url(#mxg)"/>
<rect x="1854.8" y="1160" width="15" height="145" rx="7.5" fill="#2e3566" stroke="#1f2b5c" stroke-width="3.5"/>
<rect x="1857.3" y="1249.6" width="10" height="53.40000000000009" rx="5" fill="#5ad2ec"/>
<rect x="1907.0" y="1160" width="15" height="145" rx="7.5" fill="#2e3566" stroke="#1f2b5c" stroke-width="3.5"/>
<rect x="1909.5" y="1283.8" width="10" height="19.200000000000045" rx="5" fill="#5ad2ec"/>
<rect x="1957.5" y="1160" width="15" height="145" rx="7.5" fill="#2e3566" stroke="#1f2b5c" stroke-width="3.5"/>
<rect x="1960" y="1233" width="10" height="70" rx="5" fill="#c87ee6"/>
<line x1="1884.4" y1="1176" x2="1892.4" y2="1176" stroke="#a6bce0" stroke-width="2.5" stroke-linecap="round"/>
<line x1="1884.4" y1="1195.8" x2="1892.4" y2="1195.8" stroke="#a6bce0" stroke-width="2.5" stroke-linecap="round"/>
<line x1="1884.4" y1="1213.7" x2="1892.4" y2="1213.7" stroke="#a6bce0" stroke-width="2.5" stroke-linecap="round"/>
<line x1="1884.4" y1="1231.6" x2="1892.4" y2="1231.6" stroke="#a6bce0" stroke-width="2.5" stroke-linecap="round"/>
<line x1="1884.4" y1="1251" x2="1892.4" y2="1251" stroke="#a6bce0" stroke-width="2.5" stroke-linecap="round"/>
<line x1="1884.4" y1="1270.8" x2="1892.4" y2="1270.8" stroke="#a6bce0" stroke-width="2.5" stroke-linecap="round"/>
<line x1="1884.4" y1="1290.3" x2="1892.4" y2="1290.3" stroke="#a6bce0" stroke-width="2.5" stroke-linecap="round"/>
<line x1="1936.5" y1="1176" x2="1944.5" y2="1176" stroke="#a6bce0" stroke-width="2.5" stroke-linecap="round"/>
<line x1="1936.5" y1="1195.8" x2="1944.5" y2="1195.8" stroke="#a6bce0" stroke-width="2.5" stroke-linecap="round"/>
<line x1="1936.5" y1="1213.7" x2="1944.5" y2="1213.7" stroke="#a6bce0" stroke-width="2.5" stroke-linecap="round"/>
<line x1="1936.5" y1="1231.6" x2="1944.5" y2="1231.6" stroke="#a6bce0" stroke-width="2.5" stroke-linecap="round"/>
<line x1="1936.5" y1="1251" x2="1944.5" y2="1251" stroke="#a6bce0" stroke-width="2.5" stroke-linecap="round"/>
<line x1="1936.5" y1="1270.8" x2="1944.5" y2="1270.8" stroke="#a6bce0" stroke-width="2.5" stroke-linecap="round"/>
<line x1="1936.5" y1="1290.3" x2="1944.5" y2="1290.3" stroke="#a6bce0" stroke-width="2.5" stroke-linecap="round"/>
<circle cx="1862.3" cy="1228.4" r="15" fill="url(#knob)" stroke="#1f2b5c" stroke-width="4"/>
<circle cx="1914.5" cy="1264.2" r="15" fill="url(#knob)" stroke="#1f2b5c" stroke-width="4"/>
<circle cx="1965" cy="1217" r="15" fill="url(#knob)" stroke="#1f2b5c" stroke-width="4"/>
<line x1="2005.8" y1="1157" x2="2005.8" y2="1310" stroke="#3a4480" stroke-width="3"/>
<rect x="2025" y="1158.5" width="66" height="16" rx="8" fill="url(#pill)" stroke="#1f2b5c" stroke-width="4"/>
<line x1="2026" y1="1195.8" x2="2090" y2="1195.8" stroke="#9aa8cc" stroke-width="4" stroke-linecap="round"/>
<circle cx="2062.8" cy="1195.8" r="7" fill="#d0d8e4" stroke="#1f2b5c" stroke-width="3.5"/>
<line x1="2026" y1="1220.2" x2="2090" y2="1220.2" stroke="#9aa8cc" stroke-width="4" stroke-linecap="round"/>
<circle cx="2044.9" cy="1220.2" r="7" fill="#d0d8e4" stroke="#1f2b5c" stroke-width="3.5"/>
<circle cx="2058" cy="1279" r="30" fill="none" stroke="#2c3466" stroke-width="7"/>
<path d="M2058,1249 A30,30 0 0 0 2040,1303" fill="none" stroke="#5ad2ec" stroke-width="7"/>
<circle cx="2058" cy="1281" r="20" fill="url(#knob)" stroke="#1f2b5c" stroke-width="4"/>
<line x1="2058" y1="1258" x2="2058" y2="1276" stroke="#1f2b5c" stroke-width="4" stroke-linecap="round"/>
<text x="214.7" y="132.0" font-size="85.03" font-weight="bold" fill="#1a6cc2" textLength="422.5" lengthAdjust="spacingAndGlyphs" >SEMANTIC</text>
<text x="654.7" y="132.0" font-size="85.03" font-weight="bold" fill="#1a6cc2" textLength="328.5" lengthAdjust="spacingAndGlyphs" >KERNEL:</text>
<text x="999.0" y="131.5" font-size="83.58" font-weight="bold" fill="#0f1e48" textLength="447.3" lengthAdjust="spacingAndGlyphs" >ADVANCED</text>
<text x="1471.6" y="131.5" font-size="83.58" font-weight="bold" fill="#0f1e48" textLength="521.8" lengthAdjust="spacingAndGlyphs" >FUNCTIONAL</text>
<text x="2012.1" y="131.5" font-size="83.58" font-weight="bold" fill="#0f1e48" textLength="600.9" lengthAdjust="spacingAndGlyphs" >ARCHITECTURE</text>
<text x="215.7" y="329.0" font-size="29.07" font-weight="normal" fill="#1b2245" textLength="171.8" lengthAdjust="spacingAndGlyphs"  stroke="#1b2245" stroke-width="1.5" stroke-linejoin="round">AI SERVICES</text>
<text x="204.9" y="365.0" font-size="26.16" font-weight="normal" fill="#1b2245" textLength="192.3" lengthAdjust="spacingAndGlyphs"  stroke="#1b2245" stroke-width="1.5" stroke-linejoin="round">(e.g., OpenAI)</text>
<text x="191.5" y="576.0" font-size="27.62" font-weight="normal" fill="#1b2245" textLength="219.1" lengthAdjust="spacingAndGlyphs"  stroke="#1b2245" stroke-width="1.5" stroke-linejoin="round">DATA SOURCES</text>
<text x="179.9" y="608.5" font-size="26.89" font-weight="normal" fill="#1b2245" textLength="243.2" lengthAdjust="spacingAndGlyphs"  stroke="#1b2245" stroke-width="1.5" stroke-linejoin="round">(Databases, APIs)</text>
<text x="759.0" y="537.6" font-size="42.15" font-weight="normal" fill="#1b2245" textLength="247.9" lengthAdjust="spacingAndGlyphs"  stroke="#1b2245" stroke-width="1.5" stroke-linejoin="round">CONNECTORS</text>
<text x="1825.8" y="537.0" font-size="39.24" font-weight="normal" fill="#1b2245" textLength="192.1" lengthAdjust="spacingAndGlyphs"  stroke="#1b2245" stroke-width="1.5" stroke-linejoin="round">PLANNERS</text>
<text x="2113.7" y="483.0" font-size="29.07" font-weight="normal" fill="#1b2245" textLength="74.8" lengthAdjust="spacingAndGlyphs"  stroke="#1b2245" stroke-width="1.5" stroke-linejoin="round">USER</text>
<text x="2086.0" y="517.6" font-size="28.92" font-weight="normal" fill="#1b2245" textLength="130.4" lengthAdjust="spacingAndGlyphs"  stroke="#1b2245" stroke-width="1.5" stroke-linejoin="round">REQUEST</text>
<text x="2249.1" y="483.0" font-size="29.07" font-weight="normal" fill="#1b2245" textLength="129.4" lengthAdjust="spacingAndGlyphs"  stroke="#1b2245" stroke-width="1.5" stroke-linejoin="round">ANALYZE</text>
<text x="2423.4" y="483.0" font-size="29.07" font-weight="normal" fill="#1b2245" textLength="108.0" lengthAdjust="spacingAndGlyphs"  stroke="#1b2245" stroke-width="1.5" stroke-linejoin="round">CREATE</text>
<text x="2438.3" y="517.6" font-size="28.92" font-weight="normal" fill="#1b2245" textLength="79.5" lengthAdjust="spacingAndGlyphs"  stroke="#1b2245" stroke-width="1.5" stroke-linejoin="round">PLAN</text>
<text x="2580.6" y="483.0" font-size="29.07" font-weight="normal" fill="#1b2245" textLength="125.8" lengthAdjust="spacingAndGlyphs"  stroke="#1b2245" stroke-width="1.5" stroke-linejoin="round">EXECUTE</text>
<text x="198.3" y="895.5" font-size="39.39" font-weight="normal" fill="#f4f4fb" textLength="156.6" lengthAdjust="spacingAndGlyphs"  stroke="#f4f4fb" stroke-width="1.5" stroke-linejoin="round">PLUGINS</text>
<text x="524.4" y="895.5" font-size="39.39" font-weight="normal" fill="#f4f4fb" textLength="155.2" lengthAdjust="spacingAndGlyphs"  stroke="#f4f4fb" stroke-width="1.5" stroke-linejoin="round">PLUGINS</text>
<text x="149.4" y="990.7" font-size="37.65" font-weight="normal" fill="#1b2245" textLength="584.5" lengthAdjust="spacingAndGlyphs"  stroke="#1b2245" stroke-width="1.5" stroke-linejoin="round">NATIVE &amp; SEMANTIC FUNCTIONS</text>
<text x="2231.0" y="991.0" font-size="39.97" font-weight="normal" fill="#1b2245" textLength="261.5" lengthAdjust="spacingAndGlyphs"  stroke="#1b2245" stroke-width="1.5" stroke-linejoin="round">CHAT HISTORY</text>
<text x="1270.2" y="1119.9" font-size="54.51" font-weight="bold" fill="#15204a" textLength="264.5" lengthAdjust="spacingAndGlyphs" >SEMANTIC</text>
<text x="1303.6" y="1172.0" font-size="52.04" font-weight="bold" fill="#15204a" textLength="198.7" lengthAdjust="spacingAndGlyphs" >KERNEL</text>
<text x="1358.1" y="1230.8" font-size="56.98" font-weight="bold" fill="#2a72c0" textLength="101.1" lengthAdjust="spacingAndGlyphs" >(SK)</text>
<text x="418.5" y="1246.0" font-size="41.43" font-weight="normal" fill="#1b2245" textLength="198.2" lengthAdjust="spacingAndGlyphs"  stroke="#1b2245" stroke-width="1.5" stroke-linejoin="round">INTERCEPT</text>
<text x="436.8" y="1287.8" font-size="41.28" font-weight="normal" fill="#1b2245" textLength="179.9" lengthAdjust="spacingAndGlyphs"  stroke="#1b2245" stroke-width="1.5" stroke-linejoin="round">&amp; MODIFY</text>
<text x="773.0" y="1407.4" font-size="41.28" font-weight="normal" fill="#1b2245" textLength="138.8" lengthAdjust="spacingAndGlyphs"  stroke="#1b2245" stroke-width="1.5" stroke-linejoin="round">FILTERS</text>
<text x="678.7" y="1480.6" font-size="41.57" font-weight="normal" fill="#1b2245" textLength="327.3" lengthAdjust="spacingAndGlyphs"  stroke="#1b2245" stroke-width="1.5" stroke-linejoin="round">SECURITY &amp; LOGIC</text>
<text x="2192.2" y="1248.0" font-size="40.41" font-weight="normal" fill="#1b2245" textLength="357.9" lengthAdjust="spacingAndGlyphs"  stroke="#1b2245" stroke-width="1.5" stroke-linejoin="round">CONFIGURATIONS &amp;</text>
<text x="2192.4" y="1288.7" font-size="40.26" font-weight="normal" fill="#1b2245" textLength="361.4" lengthAdjust="spacingAndGlyphs"  stroke="#1b2245" stroke-width="1.5" stroke-linejoin="round">QUERY PROCESSING</text>
<text x="1765.5" y="1415.9" font-size="35.61" font-weight="normal" fill="#1b2245" textLength="394.3" lengthAdjust="spacingAndGlyphs"  stroke="#1b2245" stroke-width="1.5" stroke-linejoin="round">EXECUTION SETTINGS</text>
<text x="1786.3" y="1463.0" font-size="35.32" font-weight="normal" fill="#1b2245" textLength="354.0" lengthAdjust="spacingAndGlyphs"  stroke="#1b2245" stroke-width="1.5" stroke-linejoin="round">CONFIGURATIONS &amp;</text>
<text x="1783.1" y="1499.0" font-size="35.61" font-weight="normal" fill="#1b2245" textLength="360.4" lengthAdjust="spacingAndGlyphs"  stroke="#1b2245" stroke-width="1.5" stroke-linejoin="round">QUERY PROCESSING</text></svg></body></html>
